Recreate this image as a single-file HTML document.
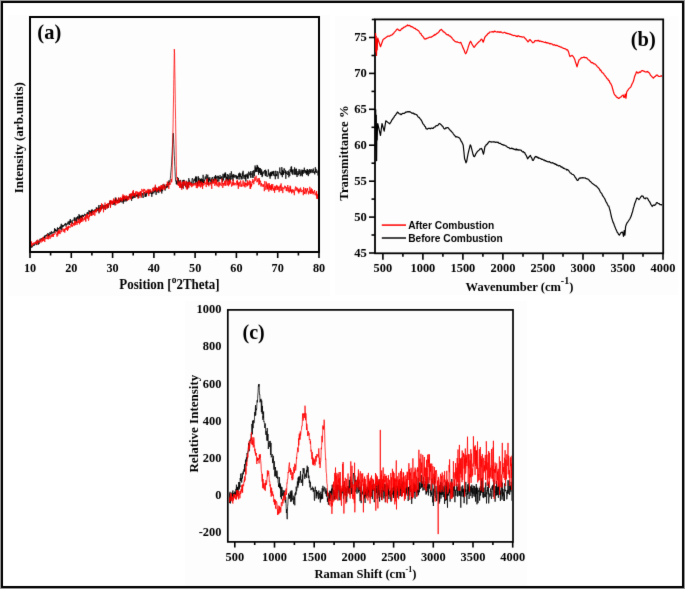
<!DOCTYPE html>
<html><head><meta charset="utf-8"><style>
html,body{margin:0;padding:0;background:#fff;width:685px;height:589px;overflow:hidden}
svg{display:block}
</style></head><body>
<svg width="685" height="589" viewBox="0 0 685 589">
<defs><filter id="bl" x="0" y="0" width="685" height="589" filterUnits="userSpaceOnUse" color-interpolation-filters="sRGB"><feConvolveMatrix order="3" kernelMatrix="0.0064 0.0672 0.0064 0.0672 0.7056 0.0672 0.0064 0.0672 0.0064" divisor="1" edgeMode="duplicate" preserveAlpha="true"/></filter></defs>
<g filter="url(#bl)">
<rect x="0" y="0" width="685" height="589" fill="#fff"/>
<rect x="8" y="15" width="322" height="281" fill="#fdfdfd"/>
<rect x="335" y="16" width="343" height="279" fill="#fdfdfd"/>
<rect x="185" y="301" width="342" height="286" fill="#fdfdfd"/>
<rect x="30" y="17" width="289" height="235" fill="none" stroke="#000" stroke-width="2"/><line x1="30.0" y1="252.0" x2="30.0" y2="258.0" stroke="#000" stroke-width="1.6"/><text transform="translate(30.00,271.80) scale(1,1.09)" style="font-family:'Liberation Serif',serif;font-weight:bold;font-size:12.2px" text-anchor="middle" >10</text><line x1="50.6" y1="252.0" x2="50.6" y2="255.5" stroke="#000" stroke-width="1.6"/><line x1="71.3" y1="252.0" x2="71.3" y2="258.0" stroke="#000" stroke-width="1.6"/><text transform="translate(71.29,271.80) scale(1,1.09)" style="font-family:'Liberation Serif',serif;font-weight:bold;font-size:12.2px" text-anchor="middle" >20</text><line x1="91.9" y1="252.0" x2="91.9" y2="255.5" stroke="#000" stroke-width="1.6"/><line x1="112.6" y1="252.0" x2="112.6" y2="258.0" stroke="#000" stroke-width="1.6"/><text transform="translate(112.57,271.80) scale(1,1.09)" style="font-family:'Liberation Serif',serif;font-weight:bold;font-size:12.2px" text-anchor="middle" >30</text><line x1="133.2" y1="252.0" x2="133.2" y2="255.5" stroke="#000" stroke-width="1.6"/><line x1="153.9" y1="252.0" x2="153.9" y2="258.0" stroke="#000" stroke-width="1.6"/><text transform="translate(153.86,271.80) scale(1,1.09)" style="font-family:'Liberation Serif',serif;font-weight:bold;font-size:12.2px" text-anchor="middle" >40</text><line x1="174.5" y1="252.0" x2="174.5" y2="255.5" stroke="#000" stroke-width="1.6"/><line x1="195.1" y1="252.0" x2="195.1" y2="258.0" stroke="#000" stroke-width="1.6"/><text transform="translate(195.14,271.80) scale(1,1.09)" style="font-family:'Liberation Serif',serif;font-weight:bold;font-size:12.2px" text-anchor="middle" >50</text><line x1="215.8" y1="252.0" x2="215.8" y2="255.5" stroke="#000" stroke-width="1.6"/><line x1="236.4" y1="252.0" x2="236.4" y2="258.0" stroke="#000" stroke-width="1.6"/><text transform="translate(236.43,271.80) scale(1,1.09)" style="font-family:'Liberation Serif',serif;font-weight:bold;font-size:12.2px" text-anchor="middle" >60</text><line x1="257.1" y1="252.0" x2="257.1" y2="255.5" stroke="#000" stroke-width="1.6"/><line x1="277.7" y1="252.0" x2="277.7" y2="258.0" stroke="#000" stroke-width="1.6"/><text transform="translate(277.71,271.80) scale(1,1.09)" style="font-family:'Liberation Serif',serif;font-weight:bold;font-size:12.2px" text-anchor="middle" >70</text><line x1="298.4" y1="252.0" x2="298.4" y2="255.5" stroke="#000" stroke-width="1.6"/><line x1="319.0" y1="252.0" x2="319.0" y2="258.0" stroke="#000" stroke-width="1.6"/><text transform="translate(319.00,271.80) scale(1,1.09)" style="font-family:'Liberation Serif',serif;font-weight:bold;font-size:12.2px" text-anchor="middle" >80</text><text transform="translate(49.30,38.80) scale(1,1.06)" style="font-family:'Liberation Serif',serif;font-weight:bold;font-size:20.5px" text-anchor="middle" >(a)</text><text transform="translate(169.50,288.90) scale(1,1.05)" style="font-family:'Liberation Serif',serif;font-weight:bold;font-size:13px" text-anchor="middle" >Position [<tspan dy="-6" font-size="9.5">o</tspan><tspan dy="6">2Theta]</tspan></text><text transform="translate(22.8,137.7) rotate(-90)" style="font-family:'Liberation Serif',serif;font-weight:bold;font-size:13px" text-anchor="middle">Intensity (arb.units)</text><rect x="375" y="19.4" width="288.2" height="233.9" fill="none" stroke="#000" stroke-width="1.8"/><line x1="371.8" y1="19.5" x2="375.0" y2="19.5" stroke="#000" stroke-width="1.6"/><line x1="382.9" y1="253.3" x2="382.9" y2="259.7" stroke="#000" stroke-width="1.6"/><text transform="translate(382.90,271.70) scale(1,1.06)" style="font-family:'Liberation Serif',serif;font-weight:bold;font-size:12.4px" text-anchor="middle" >500</text><line x1="402.9" y1="253.3" x2="402.9" y2="256.8" stroke="#000" stroke-width="1.6"/><line x1="422.9" y1="253.3" x2="422.9" y2="259.7" stroke="#000" stroke-width="1.6"/><text transform="translate(422.92,271.70) scale(1,1.06)" style="font-family:'Liberation Serif',serif;font-weight:bold;font-size:12.4px" text-anchor="middle" >1000</text><line x1="442.9" y1="253.3" x2="442.9" y2="256.8" stroke="#000" stroke-width="1.6"/><line x1="462.9" y1="253.3" x2="462.9" y2="259.7" stroke="#000" stroke-width="1.6"/><text transform="translate(462.93,271.70) scale(1,1.06)" style="font-family:'Liberation Serif',serif;font-weight:bold;font-size:12.4px" text-anchor="middle" >1500</text><line x1="482.9" y1="253.3" x2="482.9" y2="256.8" stroke="#000" stroke-width="1.6"/><line x1="502.9" y1="253.3" x2="502.9" y2="259.7" stroke="#000" stroke-width="1.6"/><text transform="translate(502.94,271.70) scale(1,1.06)" style="font-family:'Liberation Serif',serif;font-weight:bold;font-size:12.4px" text-anchor="middle" >2000</text><line x1="523.0" y1="253.3" x2="523.0" y2="256.8" stroke="#000" stroke-width="1.6"/><line x1="543.0" y1="253.3" x2="543.0" y2="259.7" stroke="#000" stroke-width="1.6"/><text transform="translate(542.96,271.70) scale(1,1.06)" style="font-family:'Liberation Serif',serif;font-weight:bold;font-size:12.4px" text-anchor="middle" >2500</text><line x1="563.0" y1="253.3" x2="563.0" y2="256.8" stroke="#000" stroke-width="1.6"/><line x1="583.0" y1="253.3" x2="583.0" y2="259.7" stroke="#000" stroke-width="1.6"/><text transform="translate(582.97,271.70) scale(1,1.06)" style="font-family:'Liberation Serif',serif;font-weight:bold;font-size:12.4px" text-anchor="middle" >3000</text><line x1="603.0" y1="253.3" x2="603.0" y2="256.8" stroke="#000" stroke-width="1.6"/><line x1="623.0" y1="253.3" x2="623.0" y2="259.7" stroke="#000" stroke-width="1.6"/><text transform="translate(622.99,271.70) scale(1,1.06)" style="font-family:'Liberation Serif',serif;font-weight:bold;font-size:12.4px" text-anchor="middle" >3500</text><line x1="643.0" y1="253.3" x2="643.0" y2="256.8" stroke="#000" stroke-width="1.6"/><line x1="663.0" y1="253.3" x2="663.0" y2="259.7" stroke="#000" stroke-width="1.6"/><text transform="translate(663.00,271.70) scale(1,1.06)" style="font-family:'Liberation Serif',serif;font-weight:bold;font-size:12.4px" text-anchor="middle" >4000</text><line x1="375.0" y1="253.0" x2="369.0" y2="253.0" stroke="#000" stroke-width="1.6"/><text transform="translate(366.80,256.89) scale(1,1.03)" style="font-family:'Liberation Serif',serif;font-weight:bold;font-size:12.6px" text-anchor="end" >45</text><line x1="375.0" y1="235.0" x2="371.5" y2="235.0" stroke="#000" stroke-width="1.6"/><line x1="375.0" y1="217.1" x2="369.0" y2="217.1" stroke="#000" stroke-width="1.6"/><text transform="translate(366.80,220.97) scale(1,1.03)" style="font-family:'Liberation Serif',serif;font-weight:bold;font-size:12.6px" text-anchor="end" >50</text><line x1="375.0" y1="199.1" x2="371.5" y2="199.1" stroke="#000" stroke-width="1.6"/><line x1="375.0" y1="181.2" x2="369.0" y2="181.2" stroke="#000" stroke-width="1.6"/><text transform="translate(366.80,185.06) scale(1,1.03)" style="font-family:'Liberation Serif',serif;font-weight:bold;font-size:12.6px" text-anchor="end" >55</text><line x1="375.0" y1="163.2" x2="371.5" y2="163.2" stroke="#000" stroke-width="1.6"/><line x1="375.0" y1="145.2" x2="369.0" y2="145.2" stroke="#000" stroke-width="1.6"/><text transform="translate(366.80,149.15) scale(1,1.03)" style="font-family:'Liberation Serif',serif;font-weight:bold;font-size:12.6px" text-anchor="end" >60</text><line x1="375.0" y1="127.3" x2="371.5" y2="127.3" stroke="#000" stroke-width="1.6"/><line x1="375.0" y1="109.3" x2="369.0" y2="109.3" stroke="#000" stroke-width="1.6"/><text transform="translate(366.80,113.23) scale(1,1.03)" style="font-family:'Liberation Serif',serif;font-weight:bold;font-size:12.6px" text-anchor="end" >65</text><line x1="375.0" y1="91.4" x2="371.5" y2="91.4" stroke="#000" stroke-width="1.6"/><line x1="375.0" y1="73.4" x2="369.0" y2="73.4" stroke="#000" stroke-width="1.6"/><text transform="translate(366.80,77.31) scale(1,1.03)" style="font-family:'Liberation Serif',serif;font-weight:bold;font-size:12.6px" text-anchor="end" >70</text><line x1="375.0" y1="55.5" x2="371.5" y2="55.5" stroke="#000" stroke-width="1.6"/><line x1="375.0" y1="37.5" x2="369.0" y2="37.5" stroke="#000" stroke-width="1.6"/><text transform="translate(366.80,41.40) scale(1,1.03)" style="font-family:'Liberation Serif',serif;font-weight:bold;font-size:12.6px" text-anchor="end" >75</text><text transform="translate(643.30,46.20) scale(1,1.04)" style="font-family:'Liberation Serif',serif;font-weight:bold;font-size:20.5px" text-anchor="middle" >(b)</text><text x="519.5" y="290.5" style="font-family:'Liberation Serif',serif;font-weight:bold;font-size:12.5px" text-anchor="middle" >Wavenumber (cm<tspan dy="-6.5" font-size="10">-1</tspan><tspan dy="6.5">)</tspan></text><text transform="translate(347.5,153) rotate(-90)" style="font-family:'Liberation Serif',serif;font-weight:bold;font-size:12.8px" text-anchor="middle">Transmittance %</text><line x1="381.8" y1="225.1" x2="406.0" y2="225.1" stroke="#ff2a2a" stroke-width="1.8"/><line x1="381.8" y1="238.0" x2="406.0" y2="238.0" stroke="#333" stroke-width="1.8"/><text x="408.2" y="229.1" style="font-family:'Liberation Sans',sans-serif;font-weight:bold;font-size:10.2px" text-anchor="start" >After Combustion</text><text x="408.2" y="241.8" style="font-family:'Liberation Sans',sans-serif;font-weight:bold;font-size:10.2px" text-anchor="start" >Before Combustion</text><rect x="227.8" y="309.9" width="285.2" height="232.0" fill="none" stroke="#000" stroke-width="1.7"/><line x1="234.8" y1="541.9" x2="234.8" y2="547.6" stroke="#000" stroke-width="1.6"/><text x="234.8" y="560.8" style="font-family:'Liberation Serif',serif;font-weight:bold;font-size:12.4px" text-anchor="middle" >500</text><line x1="254.7" y1="541.9" x2="254.7" y2="545.0" stroke="#000" stroke-width="1.6"/><line x1="274.5" y1="541.9" x2="274.5" y2="547.6" stroke="#000" stroke-width="1.6"/><text x="274.5" y="560.8" style="font-family:'Liberation Serif',serif;font-weight:bold;font-size:12.4px" text-anchor="middle" >1000</text><line x1="294.4" y1="541.9" x2="294.4" y2="545.0" stroke="#000" stroke-width="1.6"/><line x1="314.2" y1="541.9" x2="314.2" y2="547.6" stroke="#000" stroke-width="1.6"/><text x="314.2" y="560.8" style="font-family:'Liberation Serif',serif;font-weight:bold;font-size:12.4px" text-anchor="middle" >1500</text><line x1="334.1" y1="541.9" x2="334.1" y2="545.0" stroke="#000" stroke-width="1.6"/><line x1="353.9" y1="541.9" x2="353.9" y2="547.6" stroke="#000" stroke-width="1.6"/><text x="353.9" y="560.8" style="font-family:'Liberation Serif',serif;font-weight:bold;font-size:12.4px" text-anchor="middle" >2000</text><line x1="373.8" y1="541.9" x2="373.8" y2="545.0" stroke="#000" stroke-width="1.6"/><line x1="393.6" y1="541.9" x2="393.6" y2="547.6" stroke="#000" stroke-width="1.6"/><text x="393.6" y="560.8" style="font-family:'Liberation Serif',serif;font-weight:bold;font-size:12.4px" text-anchor="middle" >2500</text><line x1="413.5" y1="541.9" x2="413.5" y2="545.0" stroke="#000" stroke-width="1.6"/><line x1="433.3" y1="541.9" x2="433.3" y2="547.6" stroke="#000" stroke-width="1.6"/><text x="433.3" y="560.8" style="font-family:'Liberation Serif',serif;font-weight:bold;font-size:12.4px" text-anchor="middle" >3000</text><line x1="453.2" y1="541.9" x2="453.2" y2="545.0" stroke="#000" stroke-width="1.6"/><line x1="473.0" y1="541.9" x2="473.0" y2="547.6" stroke="#000" stroke-width="1.6"/><text x="473.0" y="560.8" style="font-family:'Liberation Serif',serif;font-weight:bold;font-size:12.4px" text-anchor="middle" >3500</text><line x1="492.9" y1="541.9" x2="492.9" y2="545.0" stroke="#000" stroke-width="1.6"/><line x1="512.7" y1="541.9" x2="512.7" y2="547.6" stroke="#000" stroke-width="1.6"/><text x="512.7" y="560.8" style="font-family:'Liberation Serif',serif;font-weight:bold;font-size:12.4px" text-anchor="middle" >4000</text><text x="221.4" y="536.3" style="font-family:'Liberation Serif',serif;font-weight:bold;font-size:12.4px" text-anchor="end" >-200</text><text x="221.4" y="499.1" style="font-family:'Liberation Serif',serif;font-weight:bold;font-size:12.4px" text-anchor="end" >0</text><text x="221.4" y="461.9" style="font-family:'Liberation Serif',serif;font-weight:bold;font-size:12.4px" text-anchor="end" >200</text><text x="221.4" y="424.7" style="font-family:'Liberation Serif',serif;font-weight:bold;font-size:12.4px" text-anchor="end" >400</text><text x="221.4" y="387.5" style="font-family:'Liberation Serif',serif;font-weight:bold;font-size:12.4px" text-anchor="end" >600</text><text x="221.4" y="350.3" style="font-family:'Liberation Serif',serif;font-weight:bold;font-size:12.4px" text-anchor="end" >800</text><text x="221.4" y="313.1" style="font-family:'Liberation Serif',serif;font-weight:bold;font-size:12.4px" text-anchor="end" >1000</text><text x="253.6" y="339.2" style="font-family:'Liberation Serif',serif;font-weight:bold;font-size:20px" text-anchor="middle" >(c)</text><text x="365.5" y="578.0" style="font-family:'Liberation Serif',serif;font-weight:bold;font-size:12.5px" text-anchor="middle" >Raman Shift (cm<tspan dy="-6" font-size="8">-1</tspan><tspan dy="6">)</tspan></text><text transform="translate(198,423.7) rotate(-90)" style="font-family:'Liberation Serif',serif;font-weight:bold;font-size:13px" text-anchor="middle">Relative Intensity</text>

<svg x="0" y="0" width="685" height="589" overflow="hidden">
<defs>
<clipPath id="ca"><rect x="31" y="18" width="287" height="233"/></clipPath>
<clipPath id="cb"><rect x="374" y="20" width="288" height="232"/></clipPath>
<clipPath id="cc"><rect x="229" y="311" width="283" height="230"/></clipPath>
</defs>
<g clip-path="url(#ca)" fill="none" stroke-linejoin="round">
<path d="M30.8 247.6L31.1 247.9L31.3 247.2L31.6 245.3L31.8 247.6L32.0 246.9L32.3 245.6L32.5 246.7L32.8 246.3L33.0 246.1L33.3 245.6L33.5 246.0L33.8 244.4L34.0 244.9L34.3 244.4L34.5 245.5L34.8 244.7L35.0 244.1L35.3 243.4L35.5 243.8L35.8 244.0L36.0 243.5L36.3 245.1L36.5 244.6L36.8 240.4L37.0 241.0L37.3 242.8L37.5 242.3L37.8 242.8L38.0 242.6L38.3 244.7L38.5 240.7L38.8 241.3L39.0 244.0L39.3 242.1L39.5 242.0L39.8 240.4L40.0 238.8L40.3 240.8L40.5 240.5L40.8 238.7L41.0 239.1L41.3 239.7L41.5 238.4L41.8 239.2L42.0 239.3L42.3 239.0L42.5 238.1L42.8 239.2L43.0 239.4L43.3 238.5L43.5 236.9L43.8 238.6L44.0 236.9L44.3 238.4L44.5 235.8L44.8 238.0L45.0 236.7L45.3 235.1L45.5 236.1L45.8 236.4L46.0 236.5L46.3 234.8L46.5 234.5L46.8 236.0L47.0 235.1L47.3 235.8L47.5 236.3L47.8 233.2L48.0 235.4L48.3 236.5L48.5 234.4L48.8 233.6L49.0 235.5L49.3 234.7L49.5 235.4L49.8 233.7L50.0 232.1L50.3 233.7L50.5 233.1L50.8 234.5L51.0 233.6L51.3 231.2L51.5 231.6L51.8 234.1L52.0 233.7L52.3 231.9L52.5 232.5L52.8 233.0L53.0 232.8L53.3 233.2L53.5 232.3L53.8 231.6L54.0 231.3L54.3 232.8L54.5 228.3L54.8 231.0L55.0 231.0L55.3 228.9L55.5 231.1L55.8 229.6L56.0 231.5L56.3 230.0L56.5 230.9L56.8 231.5L57.0 230.2L57.3 228.4L57.5 227.4L57.8 231.6L58.0 228.9L58.3 228.0L58.5 229.0L58.8 228.4L59.0 229.6L59.3 228.4L59.5 228.2L59.8 227.0L60.0 228.5L60.3 226.3L60.5 228.5L60.8 229.5L61.0 225.2L61.3 223.8L61.5 227.9L61.8 230.3L62.0 225.4L62.3 224.9L62.5 227.3L62.8 225.2L63.0 225.5L63.3 225.6L63.5 226.6L63.8 225.2L64.0 226.0L64.3 225.2L64.5 224.2L64.8 224.8L65.0 223.7L65.3 224.9L65.5 223.2L65.8 223.1L66.0 226.6L66.3 224.3L66.5 224.1L66.8 224.8L67.0 223.3L67.3 223.5L67.5 224.3L67.8 223.9L68.0 221.7L68.3 224.4L68.5 222.2L68.8 221.4L69.0 221.5L69.3 222.1L69.5 224.9L69.8 220.7L70.0 222.5L70.3 219.0L70.5 222.0L70.8 223.1L71.0 221.3L71.3 220.6L71.5 221.7L71.8 222.3L72.0 222.1L72.3 223.8L72.5 221.1L72.8 219.8L73.0 220.4L73.3 220.3L73.5 220.4L73.8 220.1L74.0 220.2L74.3 217.4L74.5 220.9L74.8 218.7L75.0 217.7L75.3 220.3L75.5 221.2L75.8 219.9L76.0 219.3L76.3 217.6L76.5 222.7L76.8 220.1L77.0 217.0L77.3 217.5L77.5 218.7L77.8 216.1L78.0 218.6L78.3 217.6L78.5 220.0L78.8 219.5L79.0 214.2L79.3 217.9L79.5 215.3L79.8 219.4L80.0 217.9L80.3 218.3L80.5 215.8L80.8 220.1L81.0 220.3L81.3 215.5L81.5 217.6L81.8 215.9L82.0 216.8L82.3 214.8L82.5 219.5L82.8 215.0L83.0 215.9L83.3 217.0L83.5 215.1L83.8 215.6L84.0 215.0L84.3 215.6L84.5 213.8L84.8 214.8L85.0 215.1L85.3 214.7L85.5 215.2L85.8 214.6L86.0 216.1L86.3 214.3L86.5 214.4L86.8 213.5L87.0 213.6L87.3 212.3L87.5 215.0L87.8 212.2L88.0 212.7L88.3 214.4L88.5 214.3L88.8 212.9L89.0 210.2L89.3 214.0L89.5 213.6L89.8 210.8L90.0 214.2L90.3 211.7L90.5 210.9L90.8 212.8L91.0 212.2L91.3 212.8L91.5 209.7L91.8 215.2L92.0 211.1L92.3 209.5L92.5 212.9L92.8 211.2L93.0 212.2L93.3 211.0L93.5 211.4L93.8 211.8L94.0 210.0L94.3 212.3L94.5 210.3L94.8 209.5L95.0 211.0L95.3 211.5L95.5 210.2L95.8 209.1L96.0 211.4L96.3 207.4L96.5 208.5L96.8 210.2L97.0 207.7L97.3 209.9L97.5 209.7L97.8 211.2L98.0 208.0L98.3 208.4L98.5 209.9L98.8 205.1L99.0 213.4L99.3 207.8L99.5 207.7L99.8 210.3L100.0 208.6L100.3 205.0L100.5 209.7L100.8 210.1L101.0 207.4L101.3 207.6L101.5 209.0L101.8 206.1L102.0 208.7L102.3 208.1L102.5 206.2L102.8 204.7L103.0 206.9L103.3 205.5L103.5 209.1L103.8 207.3L104.0 208.4L104.3 207.0L104.5 207.2L104.8 205.0L105.0 207.8L105.3 209.9L105.5 205.6L105.8 204.9L106.0 205.6L106.3 204.9L106.5 204.3L106.8 205.9L107.0 204.9L107.3 208.3L107.5 205.3L107.8 205.8L108.0 206.9L108.3 204.3L108.5 207.7L108.8 203.4L109.0 203.0L109.3 203.7L109.5 204.1L109.8 201.4L110.0 204.1L110.3 200.7L110.5 206.7L110.8 203.6L111.0 202.4L111.3 201.7L111.5 202.7L111.8 202.9L112.0 201.1L112.3 201.3L112.5 202.6L112.8 201.9L113.0 204.7L113.3 205.0L113.5 202.7L113.8 203.5L114.0 199.8L114.3 203.7L114.5 202.3L114.8 203.2L115.0 205.4L115.3 197.5L115.5 202.5L115.8 199.7L116.0 203.0L116.3 199.1L116.5 200.7L116.8 202.0L117.0 202.7L117.3 201.6L117.5 199.8L117.8 200.2L118.0 203.0L118.3 201.1L118.5 197.7L118.8 202.6L119.0 201.7L119.3 202.5L119.5 200.0L119.8 202.3L120.0 198.4L120.3 201.6L120.5 199.4L120.8 201.6L121.0 202.2L121.3 198.7L121.5 200.0L121.8 200.1L122.0 202.3L122.3 201.2L122.5 197.3L122.8 200.6L123.0 201.1L123.3 203.7L123.5 196.0L123.8 198.3L124.0 201.9L124.3 196.5L124.5 196.7L124.8 200.0L125.0 201.0L125.3 197.5L125.5 199.8L125.8 198.9L126.0 201.6L126.3 198.5L126.5 200.4L126.8 196.5L127.0 197.9L127.3 198.0L127.5 200.4L127.8 199.2L128.1 196.4L128.3 199.2L128.6 199.3L128.8 197.5L129.1 197.1L129.3 197.1L129.6 194.1L129.8 197.7L130.1 197.7L130.3 195.5L130.6 198.6L130.8 194.3L131.1 195.8L131.3 195.9L131.6 200.8L131.8 193.5L132.1 197.7L132.3 198.4L132.6 197.2L132.8 198.7L133.1 194.3L133.3 191.7L133.6 197.7L133.8 193.7L134.1 195.3L134.3 193.5L134.6 197.9L134.8 197.5L135.1 194.2L135.3 197.4L135.6 195.7L135.8 195.1L136.1 195.4L136.3 194.8L136.6 196.4L136.8 195.7L137.1 194.3L137.3 197.0L137.6 193.7L137.8 195.4L138.1 195.6L138.3 197.7L138.6 193.7L138.8 198.1L139.1 194.9L139.3 194.1L139.6 193.1L139.8 195.6L140.1 194.5L140.3 192.1L140.6 192.0L140.8 193.1L141.1 192.8L141.3 196.3L141.6 196.8L141.8 195.8L142.1 194.7L142.3 193.1L142.6 194.0L142.8 195.6L143.1 198.0L143.3 195.5L143.6 193.1L143.8 193.7L144.1 192.6L144.3 192.0L144.6 193.1L144.8 193.8L145.1 197.0L145.3 193.4L145.6 196.0L145.8 196.7L146.1 193.3L146.3 196.3L146.6 194.5L146.8 192.2L147.1 193.5L147.3 193.0L147.6 192.4L147.8 192.4L148.1 193.0L148.3 193.6L148.6 190.9L148.8 192.6L149.1 189.5L149.3 193.0L149.6 193.7L149.8 192.7L150.1 192.9L150.3 193.4L150.6 190.8L150.8 191.6L151.1 193.0L151.3 193.9L151.6 192.6L151.8 196.8L152.1 191.5L152.3 193.6L152.6 194.1L152.8 191.2L153.1 189.8L153.3 189.0L153.6 191.6L153.8 193.4L154.1 191.7L154.3 191.4L154.6 190.2L154.8 192.1L155.1 186.6L155.3 191.3L155.6 190.8L155.8 187.9L156.1 194.9L156.3 187.7L156.6 188.3L156.8 188.0L157.1 192.5L157.3 188.4L157.6 191.5L157.8 191.3L158.1 190.5L158.3 187.3L158.6 188.6L158.8 193.1L159.1 187.1L159.3 188.0L159.6 189.3L159.8 191.1L160.1 189.9L160.3 190.9L160.6 187.2L160.8 191.1L161.1 190.3L161.3 185.9L161.6 192.1L161.8 193.5L162.1 187.2L162.3 188.7L162.6 191.2L162.8 185.3L163.1 184.1L163.3 185.4L163.6 186.7L163.8 186.5L164.1 188.7L164.3 187.9L164.6 184.7L164.8 188.2L165.1 190.6L165.3 189.1L165.6 188.6L165.8 186.5L166.1 188.2L166.3 184.2L166.6 187.5L166.8 185.5L167.1 187.7L167.3 186.1L167.6 182.8L167.8 185.0L168.1 186.9L168.3 181.9L168.6 182.8L168.8 182.1L169.1 180.3L169.3 184.9L169.6 182.6L169.8 182.3L170.1 181.4L170.3 178.6L170.6 175.8L170.8 172.9L171.1 170.1L171.3 167.3L171.6 164.0L171.8 159.0L172.1 154.0L172.3 149.0L172.6 144.0L172.8 139.0L173.1 134.0L173.3 133.2L173.6 138.8L173.8 144.4L174.1 150.0L174.3 155.5L174.6 161.1L174.8 166.3L175.1 171.6L175.3 176.8L175.6 181.1L175.8 181.3L176.1 180.8L176.3 184.2L176.6 181.5L176.8 180.7L177.1 184.7L177.3 180.7L177.6 177.2L177.8 180.9L178.1 184.0L178.3 178.0L178.6 183.1L178.8 183.1L179.1 180.5L179.3 180.3L179.6 182.7L179.8 182.5L180.1 186.8L180.3 184.7L180.6 179.9L180.8 181.6L181.1 185.4L181.3 188.2L181.6 184.5L181.8 184.3L182.1 188.0L182.3 183.5L182.6 182.7L182.8 180.1L183.1 182.2L183.3 188.6L183.6 179.9L183.8 183.4L184.1 179.9L184.3 183.6L184.6 185.4L184.8 182.6L185.1 184.9L185.3 184.9L185.6 184.2L185.8 187.2L186.1 184.9L186.3 182.3L186.6 181.4L186.8 180.9L187.1 184.1L187.3 182.1L187.6 188.9L187.8 187.3L188.1 182.3L188.3 182.0L188.6 186.8L188.8 178.2L189.1 181.6L189.3 184.9L189.6 180.4L189.8 181.5L190.1 181.7L190.3 184.1L190.6 182.8L190.8 183.4L191.1 183.9L191.3 182.5L191.6 185.0L191.8 180.6L192.1 178.9L192.3 178.0L192.6 178.4L192.8 180.9L193.1 184.7L193.3 182.6L193.6 180.7L193.8 179.5L194.1 180.8L194.3 181.0L194.6 180.6L194.8 178.5L195.1 180.8L195.3 184.3L195.6 176.6L195.8 181.2L196.1 176.7L196.3 182.2L196.6 179.9L196.8 176.7L197.1 181.9L197.3 186.0L197.6 181.8L197.8 184.3L198.1 181.3L198.3 176.3L198.6 182.6L198.8 180.4L199.1 177.9L199.3 183.2L199.6 182.0L199.8 180.0L200.1 183.3L200.3 179.1L200.6 182.7L200.8 178.9L201.1 182.4L201.3 178.4L201.6 184.6L201.8 181.6L202.1 184.4L202.3 179.0L202.6 179.8L202.8 182.9L203.1 174.8L203.3 178.3L203.6 183.3L203.8 181.9L204.1 183.1L204.3 179.9L204.6 182.0L204.8 178.9L205.1 177.3L205.3 176.5L205.6 179.2L205.8 179.2L206.1 178.9L206.3 174.4L206.6 175.6L206.8 179.1L207.1 181.0L207.3 178.9L207.6 178.1L207.8 174.7L208.1 185.0L208.3 177.5L208.6 184.2L208.8 183.8L209.1 180.7L209.3 178.6L209.6 180.3L209.8 177.2L210.1 180.5L210.3 179.9L210.6 181.1L210.8 182.1L211.1 183.9L211.3 178.8L211.6 182.2L211.8 177.8L212.1 177.5L212.3 178.1L212.6 177.2L212.8 181.9L213.1 181.7L213.3 182.5L213.6 179.4L213.8 180.1L214.1 178.0L214.3 176.6L214.6 180.4L214.8 179.9L215.1 176.6L215.3 180.6L215.6 175.0L215.8 178.7L216.1 177.6L216.3 177.8L216.6 176.4L216.8 181.3L217.1 180.3L217.3 181.8L217.6 179.2L217.8 175.8L218.1 177.9L218.3 175.9L218.6 179.8L218.8 181.6L219.1 179.5L219.3 177.2L219.6 177.7L219.8 179.1L220.1 175.1L220.3 178.9L220.6 178.9L220.8 177.1L221.1 177.4L221.3 178.8L221.6 176.4L221.8 176.3L222.1 180.1L222.3 178.8L222.6 182.2L222.8 175.8L223.1 173.8L223.3 180.3L223.6 180.3L223.8 176.2L224.1 174.5L224.3 177.8L224.6 173.7L224.8 177.1L225.1 172.6L225.3 177.3L225.6 172.7L225.8 177.2L226.1 181.4L226.3 177.1L226.6 179.5L226.8 176.1L227.1 175.5L227.3 174.0L227.6 180.1L227.8 177.4L228.1 181.4L228.3 174.7L228.6 176.9L228.8 177.6L229.1 180.8L229.3 181.8L229.6 175.8L229.8 174.6L230.1 173.2L230.3 180.5L230.6 177.1L230.8 175.7L231.1 177.1L231.3 171.3L231.6 173.0L231.8 179.4L232.1 178.1L232.3 177.5L232.6 174.7L232.8 178.5L233.1 181.3L233.3 174.1L233.6 177.0L233.8 175.9L234.1 177.8L234.3 176.9L234.6 176.5L234.8 174.7L235.1 176.8L235.3 175.3L235.6 176.4L235.8 176.6L236.1 178.3L236.3 175.3L236.6 175.9L236.8 179.2L237.1 176.1L237.3 176.0L237.6 178.7L237.8 177.2L238.1 176.7L238.3 177.0L238.6 173.5L238.8 177.6L239.1 179.6L239.3 177.8L239.6 172.7L239.8 177.1L240.1 174.2L240.3 175.8L240.6 176.6L240.8 173.4L241.1 179.4L241.3 176.0L241.6 178.1L241.8 177.6L242.1 179.3L242.3 178.9L242.6 172.5L242.8 176.1L243.1 170.8L243.3 174.8L243.6 177.6L243.8 178.0L244.1 178.9L244.3 174.8L244.6 176.5L244.8 175.9L245.1 178.6L245.3 179.4L245.6 174.6L245.8 181.5L246.1 175.4L246.3 174.4L246.6 176.7L246.8 177.0L247.1 176.4L247.3 173.5L247.6 178.5L247.8 175.1L248.1 178.6L248.3 178.2L248.6 171.7L248.8 172.4L249.1 172.3L249.3 175.2L249.6 174.7L249.8 175.1L250.1 172.5L250.3 175.4L250.6 177.7L250.8 171.0L251.1 173.7L251.3 174.7L251.6 173.8L251.8 173.4L252.1 177.8L252.3 176.4L252.6 175.1L252.8 170.9L253.1 177.9L253.3 173.1L253.6 170.6L253.8 170.9L254.1 170.3L254.3 176.3L254.6 171.5L254.8 171.0L255.1 165.5L255.3 172.2L255.6 167.7L255.8 167.4L256.1 171.4L256.3 167.6L256.6 171.5L256.8 172.0L257.1 164.9L257.3 169.1L257.6 165.8L257.8 169.6L258.1 172.1L258.3 166.9L258.6 174.7L258.8 169.8L259.1 167.9L259.3 170.6L259.6 173.0L259.8 168.0L260.1 171.5L260.3 168.3L260.6 174.7L260.8 172.4L261.1 171.2L261.3 174.9L261.6 169.4L261.8 171.7L262.1 177.1L262.3 172.5L262.6 176.1L262.8 173.5L263.1 171.4L263.3 172.6L263.6 173.5L263.8 172.4L264.1 171.5L264.3 171.7L264.6 170.1L264.8 174.0L265.1 174.8L265.3 175.7L265.6 169.7L265.8 176.1L266.1 174.2L266.3 170.9L266.6 174.6L266.8 176.5L267.1 175.8L267.3 176.2L267.6 176.8L267.8 176.6L268.1 174.3L268.3 169.4L268.6 172.6L268.8 175.2L269.1 173.2L269.3 176.0L269.6 176.2L269.8 174.4L270.1 178.7L270.3 171.9L270.6 176.4L270.8 173.0L271.1 172.3L271.3 175.5L271.6 172.6L271.8 176.1L272.1 171.2L272.3 174.1L272.6 172.0L272.8 173.4L273.1 173.0L273.3 171.2L273.6 175.5L273.8 170.9L274.1 171.5L274.3 176.0L274.6 176.1L274.8 175.4L275.1 174.6L275.3 179.2L275.6 170.8L275.8 171.9L276.1 171.3L276.3 175.8L276.6 174.3L276.8 176.2L277.1 175.9L277.3 173.0L277.6 171.5L277.8 171.1L278.1 178.8L278.3 175.7L278.6 174.8L278.8 172.6L279.1 172.9L279.3 172.5L279.6 172.5L279.8 167.5L280.1 173.1L280.3 172.3L280.6 173.9L280.8 173.7L281.1 175.2L281.3 173.1L281.6 175.0L281.8 167.1L282.1 170.4L282.3 177.2L282.6 170.1L282.8 172.3L283.1 174.7L283.3 170.9L283.6 174.7L283.8 169.5L284.1 168.3L284.3 169.7L284.6 168.9L284.8 172.8L285.1 172.0L285.3 173.6L285.6 170.3L285.8 178.8L286.1 172.5L286.3 172.6L286.6 173.8L286.8 172.1L287.1 171.1L287.3 172.8L287.6 174.8L287.8 174.2L288.1 174.8L288.3 171.2L288.6 170.6L288.8 177.3L289.1 171.9L289.3 173.6L289.6 174.2L289.8 175.9L290.1 169.2L290.3 171.3L290.6 171.4L290.8 171.7L291.1 166.7L291.3 172.2L291.6 166.5L291.8 173.2L292.1 173.8L292.3 173.9L292.6 169.6L292.8 174.8L293.1 170.4L293.3 169.5L293.6 170.1L293.8 170.4L294.1 172.9L294.3 174.5L294.6 167.4L294.8 171.2L295.1 174.6L295.3 173.0L295.6 173.7L295.8 168.9L296.1 174.8L296.3 168.7L296.6 173.0L296.8 175.8L297.1 177.0L297.3 173.7L297.6 174.6L297.8 171.0L298.1 171.3L298.3 175.3L298.6 172.5L298.8 172.2L299.1 169.1L299.3 172.9L299.6 174.1L299.8 170.6L300.1 171.2L300.3 176.2L300.6 172.8L300.8 171.7L301.1 169.6L301.3 170.8L301.6 171.6L301.8 175.5L302.1 170.7L302.3 176.4L302.6 169.8L302.8 171.2L303.1 174.0L303.3 171.4L303.6 169.9L303.8 171.6L304.1 172.9L304.3 167.7L304.6 171.2L304.8 171.5L305.1 170.7L305.3 173.4L305.6 170.2L305.8 170.7L306.1 171.6L306.3 173.2L306.6 170.9L306.8 175.0L307.1 169.2L307.3 174.4L307.6 169.2L307.8 170.9L308.1 172.1L308.3 176.1L308.6 173.3L308.8 170.1L309.1 174.2L309.3 170.5L309.6 169.1L309.8 172.0L310.1 171.1L310.3 173.2L310.6 169.5L310.8 171.7L311.1 172.4L311.3 171.5L311.6 170.8L311.8 169.2L312.1 173.1L312.3 171.3L312.6 172.1L312.8 170.1L313.1 171.0L313.3 168.5L313.6 171.2L313.8 172.9L314.1 171.3L314.3 173.2L314.6 171.9L314.8 174.4L315.1 170.7L315.3 167.2L315.6 172.2L315.8 170.8L316.1 168.9L316.3 172.8L316.6 171.9L316.8 172.4L317.1 170.5L317.3 171.8L317.6 172.0L317.8 175.6" stroke="#000" stroke-width="0.75"/>
<path d="M30.8 244.9L31.1 244.0L31.3 244.0L31.6 241.4L31.8 246.5L32.0 245.6L32.3 243.7L32.5 244.9L32.8 244.2L33.0 243.1L33.3 244.9L33.5 243.2L33.8 243.0L34.0 242.4L34.3 243.8L34.5 243.0L34.8 243.7L35.0 242.2L35.3 243.0L35.5 241.6L35.8 243.7L36.0 242.8L36.3 242.8L36.5 242.8L36.8 240.9L37.0 243.1L37.3 244.6L37.5 239.8L37.8 239.6L38.0 239.8L38.3 242.6L38.5 241.6L38.8 242.7L39.0 242.2L39.3 241.4L39.5 241.4L39.8 240.7L40.0 241.9L40.3 239.3L40.5 240.1L40.8 240.8L41.0 242.7L41.3 239.3L41.5 238.8L41.8 239.3L42.0 241.2L42.3 239.6L42.5 241.5L42.8 237.2L43.0 241.0L43.3 240.8L43.5 237.5L43.8 239.4L44.0 240.7L44.3 239.1L44.5 240.2L44.8 242.0L45.0 239.1L45.3 238.2L45.5 237.4L45.8 239.2L46.0 238.0L46.3 237.9L46.5 237.9L46.8 238.8L47.0 236.4L47.3 235.6L47.5 234.3L47.8 239.1L48.0 237.5L48.3 239.3L48.5 237.1L48.8 236.0L49.0 237.6L49.3 236.7L49.5 235.0L49.8 235.4L50.0 238.9L50.3 236.9L50.5 236.8L50.8 235.8L51.0 235.1L51.3 237.2L51.5 235.7L51.8 234.7L52.0 235.4L52.3 234.2L52.5 235.6L52.8 236.8L53.0 234.0L53.3 237.0L53.5 233.9L53.8 235.0L54.0 233.5L54.3 234.2L54.5 234.5L54.8 233.7L55.0 233.1L55.3 233.1L55.5 232.7L55.8 231.5L56.0 233.3L56.3 234.1L56.5 234.7L56.8 234.2L57.0 236.7L57.3 233.5L57.5 232.3L57.8 235.5L58.0 231.2L58.3 233.9L58.5 231.0L58.8 232.8L59.0 229.3L59.3 233.4L59.5 231.7L59.8 230.4L60.0 234.1L60.3 232.7L60.5 231.5L60.8 230.3L61.0 231.2L61.3 230.9L61.5 232.1L61.8 232.1L62.0 229.8L62.3 229.9L62.5 229.8L62.8 228.5L63.0 229.5L63.3 230.1L63.5 231.2L63.8 232.0L64.0 228.7L64.3 230.6L64.5 229.0L64.8 232.7L65.0 229.4L65.3 230.1L65.5 227.9L65.8 227.9L66.0 229.4L66.3 228.4L66.5 229.4L66.8 226.4L67.0 229.6L67.3 227.1L67.5 231.0L67.8 227.7L68.0 229.7L68.3 225.7L68.5 228.4L68.8 226.2L69.0 226.6L69.3 227.3L69.5 226.6L69.8 227.3L70.0 227.9L70.3 227.6L70.5 226.3L70.8 224.2L71.0 224.9L71.3 225.7L71.5 222.5L71.8 226.8L72.0 225.1L72.3 224.9L72.5 226.6L72.8 226.1L73.0 225.2L73.3 223.1L73.5 225.0L73.8 224.9L74.0 222.8L74.3 225.7L74.5 224.7L74.8 220.6L75.0 223.8L75.3 221.5L75.5 225.1L75.8 224.5L76.0 221.3L76.3 221.5L76.5 222.9L76.8 222.2L77.0 224.9L77.3 223.5L77.5 221.7L77.8 223.0L78.0 218.6L78.3 222.3L78.5 223.0L78.8 221.2L79.0 220.2L79.3 222.1L79.5 224.3L79.8 221.3L80.0 219.0L80.3 223.0L80.5 217.5L80.8 221.2L81.0 219.3L81.3 221.6L81.5 218.6L81.8 222.0L82.0 220.2L82.3 216.7L82.5 216.2L82.8 218.8L83.0 221.3L83.3 219.3L83.5 219.0L83.8 218.4L84.0 219.9L84.3 219.2L84.5 218.9L84.8 216.7L85.0 220.2L85.3 220.4L85.5 215.8L85.8 221.7L86.0 218.9L86.3 216.8L86.5 214.2L86.8 218.4L87.0 218.1L87.3 216.1L87.5 213.9L87.8 218.7L88.0 215.7L88.3 215.8L88.5 220.7L88.8 220.0L89.0 217.8L89.3 215.3L89.5 217.1L89.8 211.9L90.0 215.9L90.3 214.2L90.5 213.1L90.8 212.5L91.0 215.9L91.3 215.0L91.5 215.0L91.8 216.0L92.0 212.9L92.3 212.1L92.5 211.0L92.8 213.3L93.0 215.0L93.3 213.3L93.5 214.5L93.8 211.2L94.0 212.2L94.3 211.6L94.5 210.6L94.8 215.8L95.0 213.9L95.3 210.9L95.5 210.7L95.8 211.8L96.0 209.2L96.3 212.4L96.5 209.1L96.8 210.6L97.0 209.3L97.3 210.1L97.5 208.4L97.8 207.8L98.0 208.7L98.3 209.1L98.5 209.6L98.8 210.1L99.0 212.5L99.3 211.1L99.5 209.0L99.8 210.6L100.0 207.8L100.3 211.9L100.5 210.0L100.8 206.0L101.0 210.1L101.3 210.1L101.5 203.3L101.8 206.7L102.0 207.1L102.3 204.1L102.5 205.7L102.8 205.8L103.0 208.5L103.3 208.0L103.5 212.3L103.8 206.3L104.0 209.3L104.3 207.0L104.5 207.3L104.8 204.3L105.0 202.6L105.3 204.8L105.5 207.7L105.8 209.2L106.0 207.1L106.3 206.8L106.5 204.0L106.8 208.6L107.0 208.1L107.3 204.2L107.5 205.0L107.8 203.0L108.0 207.8L108.3 205.6L108.5 204.4L108.8 205.3L109.0 205.2L109.3 203.4L109.5 201.6L109.8 201.4L110.0 200.3L110.3 204.6L110.5 208.0L110.8 200.0L111.0 203.5L111.3 204.0L111.5 201.0L111.8 203.3L112.0 200.5L112.3 205.0L112.5 201.3L112.8 202.6L113.0 203.7L113.3 201.3L113.5 198.5L113.8 201.0L114.0 203.5L114.3 201.7L114.5 202.2L114.8 199.5L115.0 201.9L115.3 202.9L115.5 201.5L115.8 205.1L116.0 200.8L116.3 199.0L116.5 197.8L116.8 203.2L117.0 200.7L117.3 202.8L117.5 201.6L117.8 203.8L118.0 203.0L118.3 199.6L118.5 200.8L118.8 202.4L119.0 197.6L119.3 202.9L119.5 202.3L119.8 201.8L120.0 199.3L120.3 200.3L120.5 197.3L120.8 199.6L121.0 198.2L121.3 199.5L121.5 198.2L121.8 199.7L122.0 201.4L122.3 196.3L122.5 200.7L122.8 194.7L123.0 194.3L123.3 198.3L123.5 198.5L123.8 199.3L124.0 195.0L124.3 198.1L124.5 198.3L124.8 200.5L125.0 197.7L125.3 198.9L125.5 195.8L125.8 197.3L126.0 196.7L126.3 198.9L126.5 195.4L126.8 195.7L127.0 198.4L127.3 200.7L127.5 197.8L127.8 197.6L128.1 196.2L128.3 199.0L128.6 197.8L128.8 200.1L129.1 197.2L129.3 194.6L129.6 195.3L129.8 194.3L130.1 193.7L130.3 198.7L130.6 197.7L130.8 193.5L131.1 199.5L131.3 196.3L131.6 193.8L131.8 196.4L132.1 195.4L132.3 193.9L132.6 191.5L132.8 195.4L133.1 195.8L133.3 190.1L133.6 196.2L133.8 196.2L134.1 194.0L134.3 195.0L134.6 194.2L134.8 193.0L135.1 193.8L135.3 197.2L135.6 191.5L135.8 194.8L136.1 194.6L136.3 192.7L136.6 193.2L136.8 191.2L137.1 192.2L137.3 193.9L137.6 194.4L137.8 191.9L138.1 198.7L138.3 192.5L138.6 193.8L138.8 193.0L139.1 192.6L139.3 196.0L139.6 192.3L139.8 195.9L140.1 195.5L140.3 191.0L140.6 195.1L140.8 191.7L141.1 197.9L141.3 192.1L141.6 190.9L141.8 188.9L142.1 190.1L142.3 191.5L142.6 190.6L142.8 190.1L143.1 191.1L143.3 192.0L143.6 195.3L143.8 188.9L144.1 191.1L144.3 190.3L144.6 189.1L144.8 189.5L145.1 190.2L145.3 193.4L145.6 191.5L145.8 190.7L146.1 193.0L146.3 192.3L146.6 191.2L146.8 192.4L147.1 189.9L147.3 192.7L147.6 192.3L147.8 190.5L148.1 188.9L148.3 194.3L148.6 191.4L148.8 196.1L149.1 189.8L149.3 192.7L149.6 190.1L149.8 191.4L150.1 192.5L150.3 189.2L150.6 190.5L150.8 191.0L151.1 190.8L151.3 191.7L151.6 192.5L151.8 192.1L152.1 190.9L152.3 189.6L152.6 187.9L152.8 188.7L153.1 189.0L153.3 191.4L153.6 189.2L153.8 187.4L154.1 191.1L154.3 188.2L154.6 188.2L154.8 189.2L155.1 190.5L155.3 184.7L155.6 187.2L155.8 189.8L156.1 188.6L156.3 187.6L156.6 188.1L156.8 191.9L157.1 188.2L157.3 190.5L157.6 190.6L157.8 188.0L158.1 189.8L158.3 187.9L158.6 187.5L158.8 186.4L159.1 190.4L159.3 187.8L159.6 187.4L159.8 186.2L160.1 192.0L160.3 189.8L160.6 188.0L160.8 186.8L161.1 185.1L161.3 188.7L161.6 188.6L161.8 185.1L162.1 190.1L162.3 189.3L162.6 185.7L162.8 186.4L163.1 186.6L163.3 187.6L163.6 186.9L163.8 183.8L164.1 189.9L164.3 187.5L164.6 189.3L164.8 189.2L165.1 186.2L165.3 187.2L165.6 187.9L165.8 187.8L166.1 185.9L166.3 184.8L166.6 186.1L166.8 184.3L167.1 184.7L167.3 181.6L167.6 185.7L167.8 183.4L168.1 184.3L168.3 185.2L168.6 185.8L168.8 188.9L169.1 185.4L169.3 181.9L169.6 184.7L169.8 183.0L170.1 184.8L170.3 182.3L170.6 182.0L170.8 182.1L171.1 181.6L171.3 178.9L171.6 182.4L171.8 182.2L172.1 179.2L172.3 165.4L172.6 151.5L172.8 137.7L173.1 123.8L173.3 110.0L173.6 94.8L173.8 79.5L174.1 64.3L174.3 49.1L174.6 53.1L174.8 69.8L175.1 86.6L175.3 103.3L175.6 119.3L175.8 134.7L176.1 150.2L176.3 165.6L176.6 178.1L176.8 178.8L177.1 179.5L177.3 180.1L177.6 178.1L177.8 184.1L178.1 185.4L178.3 183.6L178.6 185.8L178.8 181.4L179.1 181.3L179.3 184.0L179.6 187.7L179.8 182.4L180.1 182.8L180.3 188.0L180.6 180.6L180.8 186.0L181.1 185.6L181.3 184.2L181.6 185.0L181.8 189.8L182.1 182.2L182.3 183.9L182.6 184.1L182.8 183.2L183.1 181.8L183.3 187.9L183.6 185.1L183.8 180.9L184.1 183.1L184.3 185.5L184.6 185.4L184.8 181.6L185.1 184.4L185.3 185.1L185.6 185.4L185.8 185.4L186.1 180.8L186.3 188.5L186.6 185.0L186.8 188.4L187.1 189.8L187.3 184.3L187.6 182.0L187.8 186.4L188.1 184.2L188.3 183.7L188.6 182.4L188.8 188.1L189.1 183.7L189.3 181.7L189.6 183.7L189.8 182.2L190.1 184.9L190.3 183.7L190.6 182.4L190.8 185.9L191.1 183.2L191.3 186.1L191.6 187.2L191.8 183.8L192.1 183.2L192.3 185.0L192.6 186.4L192.8 184.5L193.1 184.8L193.3 184.4L193.6 185.1L193.8 185.8L194.1 183.0L194.3 183.4L194.6 184.5L194.8 183.0L195.1 184.7L195.3 185.5L195.6 184.3L195.8 183.1L196.1 182.7L196.3 188.0L196.6 186.2L196.8 182.0L197.1 182.5L197.3 188.2L197.6 187.4L197.8 184.5L198.1 186.7L198.3 181.1L198.6 184.2L198.8 185.8L199.1 180.3L199.3 182.5L199.6 185.8L199.8 186.5L200.1 182.9L200.3 184.7L200.6 187.5L200.8 183.3L201.1 181.3L201.3 183.9L201.6 183.2L201.8 186.8L202.1 184.4L202.3 182.3L202.6 189.0L202.8 182.9L203.1 185.0L203.3 185.4L203.6 185.6L203.8 184.3L204.1 185.1L204.3 183.8L204.6 180.9L204.8 183.4L205.1 183.4L205.3 183.5L205.6 184.1L205.8 182.5L206.1 186.6L206.3 187.1L206.6 179.2L206.8 183.8L207.1 182.3L207.3 178.5L207.6 184.6L207.8 182.4L208.1 182.9L208.3 182.3L208.6 186.0L208.8 186.3L209.1 184.3L209.3 185.1L209.6 183.4L209.8 183.9L210.1 182.1L210.3 183.7L210.6 182.1L210.8 184.4L211.1 185.4L211.3 184.3L211.6 186.1L211.8 188.9L212.1 179.2L212.3 183.6L212.6 182.4L212.8 182.6L213.1 180.7L213.3 183.7L213.6 183.0L213.8 182.2L214.1 183.0L214.3 182.3L214.6 178.6L214.8 185.8L215.1 182.9L215.3 181.5L215.6 184.2L215.8 182.1L216.1 178.9L216.3 185.4L216.6 180.0L216.8 183.0L217.1 183.7L217.3 186.3L217.6 186.0L217.8 183.8L218.1 181.8L218.3 182.6L218.6 185.7L218.8 187.2L219.1 184.6L219.3 182.1L219.6 185.6L219.8 182.6L220.1 182.5L220.3 182.8L220.6 184.6L220.8 184.0L221.1 185.5L221.3 186.1L221.6 184.4L221.8 178.5L222.1 179.8L222.3 183.7L222.6 183.2L222.8 187.9L223.1 183.3L223.3 183.0L223.6 185.3L223.8 185.5L224.1 182.8L224.3 184.3L224.6 180.9L224.8 181.3L225.1 185.9L225.3 180.4L225.6 185.3L225.8 184.8L226.1 185.0L226.3 185.3L226.6 184.5L226.8 178.9L227.1 181.3L227.3 182.1L227.6 185.3L227.8 181.0L228.1 181.9L228.3 182.6L228.6 186.2L228.8 180.4L229.1 180.6L229.3 184.7L229.6 179.0L229.8 184.1L230.1 182.5L230.3 180.1L230.6 182.6L230.8 181.4L231.1 183.8L231.3 184.2L231.6 186.6L231.8 183.5L232.1 183.7L232.3 182.3L232.6 183.5L232.8 185.7L233.1 179.5L233.3 184.9L233.6 182.4L233.8 183.7L234.1 184.2L234.3 185.3L234.6 184.1L234.8 182.7L235.1 184.2L235.3 183.6L235.6 183.1L235.8 184.0L236.1 185.4L236.3 183.9L236.6 183.9L236.8 180.9L237.1 183.3L237.3 179.7L237.6 185.1L237.8 181.7L238.1 186.4L238.3 188.9L238.6 182.8L238.8 186.4L239.1 184.5L239.3 182.5L239.6 181.9L239.8 184.9L240.1 186.6L240.3 184.4L240.6 180.5L240.8 181.5L241.1 183.3L241.3 186.7L241.6 184.5L241.8 184.6L242.1 186.5L242.3 183.6L242.6 183.9L242.8 183.7L243.1 180.4L243.3 185.2L243.6 185.1L243.8 186.3L244.1 181.8L244.3 182.7L244.6 186.4L244.8 185.1L245.1 187.4L245.3 182.6L245.6 184.8L245.8 182.9L246.1 185.0L246.3 183.3L246.6 185.4L246.8 186.5L247.1 185.6L247.3 180.3L247.6 186.0L247.8 185.0L248.1 181.8L248.3 182.1L248.6 183.9L248.8 185.1L249.1 182.9L249.3 180.4L249.6 184.3L249.8 184.1L250.1 188.8L250.3 180.9L250.6 188.8L250.8 187.2L251.1 184.1L251.3 186.9L251.6 183.6L251.8 185.3L252.1 181.5L252.3 183.0L252.6 180.5L252.8 179.1L253.1 181.6L253.3 180.6L253.6 182.9L253.8 184.2L254.1 181.0L254.3 181.2L254.6 181.3L254.8 177.1L255.1 181.0L255.3 180.3L255.6 180.0L255.8 177.7L256.1 175.7L256.3 179.1L256.6 180.2L256.8 182.2L257.1 181.6L257.3 182.1L257.6 179.6L257.8 181.1L258.1 178.1L258.3 180.2L258.6 181.3L258.8 185.1L259.1 180.8L259.3 178.1L259.6 184.1L259.8 180.0L260.1 182.0L260.3 182.0L260.6 181.2L260.8 186.3L261.1 185.1L261.3 183.0L261.6 184.8L261.8 184.1L262.1 186.7L262.3 185.0L262.6 184.5L262.8 184.8L263.1 185.2L263.3 186.8L263.6 184.3L263.8 186.1L264.1 187.2L264.3 191.2L264.6 188.1L264.8 181.1L265.1 185.3L265.3 185.6L265.6 187.1L265.8 189.8L266.1 188.1L266.3 181.7L266.6 187.2L266.8 186.8L267.1 187.5L267.3 189.5L267.6 184.4L267.8 189.0L268.1 183.2L268.3 186.9L268.6 187.6L268.8 191.6L269.1 185.4L269.3 183.3L269.6 188.3L269.8 185.5L270.1 190.2L270.3 185.5L270.6 185.2L270.8 189.6L271.1 187.2L271.3 189.2L271.6 184.1L271.8 190.6L272.1 185.9L272.3 188.9L272.6 185.1L272.8 184.0L273.1 186.8L273.3 187.7L273.6 190.7L273.8 188.2L274.1 189.0L274.3 188.9L274.6 192.8L274.8 185.9L275.1 190.2L275.3 187.3L275.6 188.2L275.8 186.6L276.1 190.2L276.3 185.2L276.6 185.1L276.8 187.4L277.1 185.5L277.3 189.4L277.6 189.9L277.8 186.5L278.1 189.7L278.3 186.7L278.6 188.1L278.8 188.2L279.1 192.2L279.3 188.3L279.6 186.4L279.8 186.4L280.1 190.9L280.3 184.9L280.6 187.5L280.8 187.7L281.1 183.4L281.3 187.6L281.6 190.7L281.8 189.1L282.1 186.8L282.3 190.2L282.6 189.9L282.8 193.1L283.1 187.3L283.3 188.1L283.6 189.0L283.8 188.7L284.1 189.2L284.3 188.8L284.6 187.6L284.8 185.7L285.1 188.0L285.3 186.3L285.6 187.0L285.8 188.1L286.1 190.4L286.3 191.1L286.6 187.2L286.8 190.0L287.1 191.1L287.3 189.4L287.6 186.0L287.8 185.0L288.1 191.2L288.3 191.5L288.6 190.2L288.8 187.4L289.1 192.7L289.3 192.3L289.6 189.7L289.8 189.3L290.1 185.7L290.3 191.4L290.6 186.5L290.8 191.4L291.1 191.5L291.3 190.2L291.6 193.4L291.8 189.4L292.1 191.4L292.3 191.8L292.6 190.7L292.8 189.3L293.1 192.8L293.3 191.2L293.6 189.9L293.8 190.0L294.1 190.7L294.3 195.2L294.6 190.7L294.8 190.0L295.1 188.3L295.3 187.9L295.6 186.5L295.8 191.0L296.1 190.6L296.3 188.4L296.6 187.4L296.8 189.9L297.1 189.5L297.3 187.8L297.6 191.3L297.8 190.9L298.1 190.5L298.3 192.3L298.6 189.3L298.8 193.5L299.1 188.6L299.3 191.8L299.6 192.1L299.8 190.2L300.1 191.5L300.3 188.1L300.6 187.6L300.8 190.4L301.1 189.3L301.3 192.1L301.6 190.9L301.8 192.1L302.1 191.5L302.3 191.3L302.6 191.1L302.8 190.1L303.1 189.9L303.3 195.2L303.6 187.2L303.8 190.6L304.1 193.1L304.3 191.9L304.6 194.0L304.8 192.2L305.1 188.4L305.3 190.4L305.6 188.2L305.8 193.2L306.1 194.2L306.3 190.3L306.6 192.4L306.8 190.5L307.1 188.4L307.3 190.5L307.6 188.2L307.8 190.4L308.1 192.0L308.3 193.2L308.6 194.4L308.8 191.1L309.1 192.3L309.3 192.7L309.6 193.1L309.8 186.8L310.1 190.4L310.3 193.7L310.6 189.8L310.8 192.7L311.1 194.0L311.3 188.3L311.6 191.9L311.8 192.9L312.1 192.4L312.3 189.3L312.6 193.2L312.8 191.4L313.1 194.4L313.3 193.7L313.6 191.7L313.8 193.3L314.1 191.6L314.3 191.7L314.6 190.0L314.8 192.9L315.1 195.2L315.3 193.8L315.6 193.6L315.8 192.5L316.1 192.8L316.3 195.6L316.6 191.0L316.8 198.5L317.1 194.2L317.3 199.0L317.6 197.0L317.8 193.7" stroke="#f00" stroke-width="0.75"/>
</g>
<g clip-path="url(#cb)" fill="none" stroke-linejoin="round">
<path d="M375.6 33.0L375.9 52.0L376.2 36.0L376.5 55.5L376.9 40.0L377.2 50.0L377.5 42.0L377.7 38.0L380.5 46.7L383.1 39.5L385.3 38.0L388.0 36.1L388.7 36.0L389.4 36.3L390.1 35.8L390.8 35.1L391.5 35.2L392.2 34.8L392.9 33.8L393.6 33.6L394.3 32.2L395.0 31.6L395.7 30.8L396.4 29.8L397.1 29.1L397.8 29.2L398.5 30.2L399.2 30.2L399.9 30.7L400.6 30.2L401.3 29.2L402.0 28.3L402.7 28.7L403.4 27.5L404.1 27.1L404.8 27.2L405.5 26.5L406.2 25.9L406.9 25.8L407.6 24.9L408.3 25.7L409.0 25.6L409.7 25.4L410.4 26.1L411.1 26.8L411.8 26.4L412.5 27.2L413.2 27.3L413.9 28.1L414.6 28.5L415.3 28.4L416.0 29.4L416.7 29.6L417.4 30.0L418.1 30.6L418.8 31.0L419.5 32.3L420.2 33.4L420.9 33.6L421.6 35.3L422.3 35.7L423.0 36.8L423.7 37.4L424.4 38.9L425.1 38.8L425.8 39.1L426.5 38.3L427.2 38.3L427.9 37.9L428.6 37.9L429.3 37.3L430.0 37.0L430.7 37.3L431.4 37.1L432.1 36.5L432.8 36.4L433.5 35.3L434.2 35.5L434.9 34.4L435.6 34.8L436.3 33.9L437.0 33.3L437.7 33.1L438.4 32.3L439.1 31.7L439.8 30.4L440.5 30.2L441.2 29.3L441.9 30.0L442.6 30.6L443.3 31.9L444.0 31.8L444.7 32.5L445.4 33.2L446.1 34.0L446.8 34.6L447.5 34.8L448.2 34.7L448.9 35.5L449.6 36.2L450.3 36.0L451.0 37.1L451.7 37.6L452.4 38.6L453.1 39.5L453.8 40.3L454.5 40.9L455.2 41.7L455.9 41.7L456.6 42.1L457.3 41.8L458.0 42.3L458.7 42.5L459.4 42.8L460.1 42.6L460.8 42.3L461.5 44.2L462.2 45.5L462.9 47.6L463.6 48.9L464.3 50.5L465.0 52.7L465.7 53.8L466.4 52.7L467.1 50.6L467.8 48.7L468.5 46.1L469.2 44.2L469.9 42.3L470.6 41.2L471.3 42.6L472.0 44.1L472.7 45.2L473.4 46.4L474.1 47.4L474.8 46.6L475.5 45.3L476.2 44.7L476.9 43.8L477.6 43.0L478.3 42.6L479.0 41.6L479.7 41.2L480.4 40.5L481.1 39.3L481.8 39.2L482.5 40.5L483.2 42.2L483.9 40.3L484.6 37.9L485.3 36.6L486.0 35.8L486.7 35.3L487.4 34.3L488.1 33.4L488.8 33.4L489.5 32.2L490.2 32.0L490.9 32.0L491.6 31.9L492.3 31.6L493.0 31.8L493.7 32.1L494.4 31.1L495.1 31.4L495.8 31.7L496.5 32.0L497.2 32.2L497.9 31.5L498.6 32.0L499.3 32.4L500.0 31.7L500.7 32.3L501.4 32.0L502.1 32.7L502.8 33.0L503.5 32.7L504.2 32.3L504.9 32.4L505.6 32.9L506.3 33.5L507.0 33.1L507.7 33.7L508.4 33.7L509.1 33.8L509.8 34.4L510.5 34.2L511.2 34.5L511.9 35.1L512.6 35.1L513.3 35.6L514.0 35.5L514.7 35.4L515.4 35.8L516.1 36.3L516.8 36.1L517.5 36.6L518.2 35.7L518.9 36.1L519.6 36.6L520.3 36.6L521.0 36.6L521.7 36.8L522.4 37.1L523.1 37.0L523.8 36.9L524.5 37.7L525.2 38.6L525.9 39.1L526.6 40.2L527.3 40.9L528.0 41.9L528.7 41.1L529.4 39.9L530.1 39.7L530.8 40.5L531.5 41.2L532.2 42.1L532.9 42.8L533.6 42.3L534.3 41.9L535.0 40.6L535.7 40.7L536.4 40.7L537.1 41.0L537.8 40.3L538.5 40.4L539.2 41.4L539.9 41.1L540.6 41.1L541.3 41.4L542.0 41.8L542.7 41.5L543.4 42.0L544.1 42.3L544.8 42.5L545.5 42.0L546.2 42.9L546.9 42.7L547.6 42.9L548.3 43.2L549.0 43.1L549.7 43.9L550.4 43.4L551.1 44.0L551.8 43.8L552.5 44.4L553.2 44.9L553.9 45.1L554.6 44.6L555.3 45.2L556.0 45.7L556.7 45.2L557.4 45.6L558.1 46.1L558.8 46.3L559.5 46.4L560.2 46.9L560.9 47.2L561.6 47.2L562.3 47.8L563.0 48.0L563.7 48.5L564.4 48.6L565.1 48.7L565.8 49.1L566.5 49.9L567.2 49.5L567.9 50.4L568.6 52.1L569.3 54.7L570.0 56.6L570.7 56.1L571.4 55.8L572.1 55.3L572.8 56.1L573.5 56.9L574.2 58.3L574.9 59.8L575.6 62.6L576.3 64.3L577.0 66.8L577.7 64.4L578.4 62.0L579.1 59.8L579.8 59.4L580.5 58.8L581.2 57.9L581.9 57.7L582.6 57.6L583.3 57.5L584.0 56.9L584.7 57.7L585.4 57.6L586.1 57.7L586.8 57.9L587.5 58.9L588.2 59.7L588.9 60.0L589.6 60.5L590.3 61.3L591.0 62.3L591.7 62.9L592.4 62.6L593.1 63.0L593.8 63.9L594.5 63.8L595.2 64.2L595.9 64.9L596.6 65.6L597.3 66.6L598.0 67.2L598.7 67.8L599.4 68.6L600.1 70.3L600.8 70.1L601.5 71.7L602.2 72.7L602.9 72.9L603.6 73.6L604.3 74.8L605.0 75.6L605.7 76.6L606.4 77.4L607.1 78.8L607.8 78.8L608.5 80.5L609.2 80.7L609.9 82.7L610.6 83.2L611.3 84.7L612.0 86.3L612.7 89.0L613.4 91.5L614.1 93.7L614.8 95.0L615.5 95.4L616.2 96.6L616.9 97.4L617.6 97.3L618.3 98.5L619.0 98.3L619.7 97.7L620.4 97.1L621.1 97.0L621.8 95.9L622.5 95.5L623.2 95.0L623.9 97.5L624.6 97.2L625.3 94.0L626.0 98.3L626.7 92.0L627.4 90.8L628.1 89.9L628.8 88.8L629.5 88.1L630.2 87.5L630.9 86.8L631.6 85.0L632.3 83.4L633.0 82.2L633.7 80.3L634.4 77.3L635.1 75.2L635.8 73.8L636.5 71.8L637.2 72.3L637.9 73.1L638.6 73.0L639.3 71.9L640.0 72.4L640.7 71.9L641.4 70.9L642.1 70.5L642.8 70.6L643.5 71.2L644.2 71.2L644.9 71.7L645.6 72.1L646.3 71.7L647.0 72.0L647.7 71.4L648.4 72.5L649.1 72.7L649.8 73.8L650.5 75.3L651.2 75.9L651.9 76.7L652.6 77.2L653.3 78.2L654.0 77.5L654.7 76.6L655.4 76.5L656.1 75.4L656.8 75.1L657.5 75.2L658.2 76.2L658.9 76.4L659.6 76.5L660.3 76.2L661.0 75.9L661.7 76.1L662.4 75.3" stroke="#f00" stroke-width="1.2"/>
<path d="M375.7 109.2L376.0 150.0L376.3 115.0L376.6 160.7L376.9 125.0L377.2 140.0L377.5 126.0L377.7 123.5L380.5 135.5L382.0 123.5L384.2 131.1L385.8 120.8L389.7 123.9L390.4 122.5L391.1 121.9L391.8 119.9L392.5 119.4L393.2 118.1L393.9 117.5L394.6 115.8L395.3 115.5L396.0 114.2L396.7 113.5L397.4 112.1L398.1 112.5L398.8 113.3L399.5 114.0L400.2 113.8L400.9 114.7L401.6 114.4L402.3 113.4L403.0 113.5L403.7 113.4L404.4 113.3L405.1 112.8L405.8 112.0L406.5 112.1L407.2 111.8L407.9 111.6L408.6 112.0L409.3 111.6L410.0 111.8L410.7 112.3L411.4 112.7L412.1 113.3L412.8 113.2L413.5 113.1L414.2 114.1L414.9 113.9L415.6 114.3L416.3 114.6L417.0 115.1L417.7 116.3L418.4 117.2L419.1 117.4L419.8 118.4L420.5 119.1L421.2 120.1L421.9 121.2L422.6 123.1L423.3 124.1L424.0 124.8L424.7 126.2L425.4 126.7L426.1 128.7L426.8 128.9L427.5 129.1L428.2 128.4L428.9 128.4L429.6 128.3L430.3 128.8L431.0 128.1L431.7 128.1L432.4 128.4L433.1 128.3L433.8 127.5L434.5 127.0L435.2 127.0L435.9 125.8L436.6 125.7L437.3 125.7L438.0 125.3L438.7 124.1L439.4 123.5L440.1 123.8L440.8 124.5L441.5 125.0L442.2 126.1L442.9 126.6L443.6 128.1L444.3 128.8L445.0 128.8L445.7 127.9L446.4 128.1L447.1 127.5L447.8 127.5L448.5 128.1L449.2 129.2L449.9 129.9L450.6 130.8L451.3 131.0L452.0 132.1L452.7 132.8L453.4 134.0L454.1 135.0L454.8 135.5L455.5 136.8L456.2 136.7L456.9 136.8L457.6 137.0L458.3 137.4L459.0 137.6L459.7 138.3L460.4 139.5L461.1 141.2L461.8 142.0L462.5 143.6L463.2 145.3L463.9 151.8L464.6 158.7L465.3 160.4L466.0 162.8L466.7 161.3L467.4 157.1L468.1 153.7L468.8 150.7L469.5 147.9L470.2 144.8L470.9 145.9L471.6 148.7L472.3 151.4L473.0 154.3L473.7 156.2L474.4 156.7L475.1 155.7L475.8 153.8L476.5 152.9L477.2 151.7L477.9 151.1L478.6 150.6L479.3 149.9L480.0 148.8L480.7 149.0L481.4 148.4L482.1 149.6L482.8 152.0L483.5 154.2L484.2 150.8L484.9 146.6L485.6 146.1L486.3 144.5L487.0 144.6L487.7 143.0L488.4 142.9L489.1 141.4L489.8 141.5L490.5 141.8L491.2 142.1L491.9 141.8L492.6 142.0L493.3 141.7L494.0 142.1L494.7 141.8L495.4 142.4L496.1 142.3L496.8 142.0L497.5 142.6L498.2 142.2L498.9 143.3L499.6 143.4L500.3 143.3L501.0 143.9L501.7 144.4L502.4 144.5L503.1 145.1L503.8 144.9L504.5 145.2L505.2 145.6L505.9 145.8L506.6 146.4L507.3 147.0L508.0 147.5L508.7 147.6L509.4 148.1L510.1 148.7L510.8 148.5L511.5 148.1L512.2 148.8L512.9 148.3L513.6 149.1L514.3 149.6L515.0 149.2L515.7 149.8L516.4 149.0L517.1 150.1L517.8 149.4L518.5 150.2L519.2 149.8L519.9 150.1L520.6 150.0L521.3 150.3L522.0 151.5L522.7 151.9L523.4 151.7L524.1 152.6L524.8 152.7L525.5 154.6L526.2 155.2L526.9 157.1L527.6 158.8L528.3 157.8L529.0 157.0L529.7 156.2L530.4 155.5L531.1 157.1L531.8 158.0L532.5 160.2L533.2 160.4L533.9 159.2L534.6 157.5L535.3 156.5L536.0 157.1L536.7 156.6L537.4 157.6L538.1 157.4L538.8 158.3L539.5 158.0L540.2 158.6L540.9 158.6L541.6 159.5L542.3 159.2L543.0 159.6L543.7 160.2L544.4 160.0L545.1 160.8L545.8 160.6L546.5 161.3L547.2 161.4L547.9 161.8L548.6 161.8L549.3 161.6L550.0 162.1L550.7 162.7L551.4 163.0L552.1 162.6L552.8 162.9L553.5 163.2L554.2 163.9L554.9 163.7L555.6 164.5L556.3 164.4L557.0 165.3L557.7 165.0L558.4 166.0L559.1 165.7L559.8 165.7L560.5 166.2L561.2 167.2L561.9 166.9L562.6 167.3L563.3 168.4L564.0 168.2L564.7 168.7L565.4 169.0L566.1 169.2L566.8 170.0L567.5 169.5L568.2 170.2L568.9 170.9L569.6 172.0L570.3 173.0L571.0 173.2L571.7 174.0L572.4 174.3L573.1 174.5L573.8 175.1L574.5 175.9L575.2 177.4L575.9 178.1L576.6 179.4L577.3 180.5L578.0 180.3L578.7 179.0L579.4 178.2L580.1 177.9L580.8 178.1L581.5 177.8L582.2 178.0L582.9 177.5L583.6 178.0L584.3 178.0L585.0 177.8L585.7 178.4L586.4 178.7L587.1 178.8L587.8 179.0L588.5 179.7L589.2 180.1L589.9 181.3L590.6 181.6L591.3 182.4L592.0 183.2L592.7 183.6L593.4 184.3L594.1 184.6L594.8 185.2L595.5 185.9L596.2 185.8L596.9 186.6L597.6 187.7L598.3 188.1L599.0 189.1L599.7 190.6L600.4 192.1L601.1 192.8L601.8 193.6L602.5 195.5L603.2 196.3L603.9 197.5L604.6 198.4L605.3 200.1L606.0 201.9L606.7 202.7L607.4 204.3L608.1 205.7L608.8 206.1L609.5 208.7L610.2 211.0L610.9 214.3L611.6 217.5L612.3 219.8L613.0 222.1L613.7 223.4L614.4 225.5L615.1 227.3L615.8 228.9L616.5 230.4L617.2 232.3L617.9 232.9L618.6 234.4L619.3 235.2L620.0 234.1L620.7 232.8L621.4 232.6L622.1 232.0L622.8 232.9L623.5 236.4L624.2 230.6L624.9 235.1L625.6 226.6L626.3 224.5L627.0 222.9L627.7 222.1L628.4 221.0L629.1 220.0L629.8 219.0L630.5 217.5L631.2 216.1L631.9 213.5L632.6 211.6L633.3 208.4L634.0 206.4L634.7 203.5L635.4 202.1L636.1 199.9L636.8 198.0L637.5 198.3L638.2 198.8L638.9 199.5L639.6 198.8L640.3 197.7L641.0 196.6L641.7 195.8L642.4 196.1L643.1 196.1L643.8 198.0L644.5 198.3L645.2 198.8L645.9 197.9L646.6 198.0L647.3 198.2L648.0 199.1L648.7 200.7L649.4 201.4L650.1 202.6L650.8 204.3L651.5 205.1L652.2 206.5L652.9 205.6L653.6 205.1L654.3 205.5L655.0 204.9L655.7 204.6L656.4 202.8L657.1 202.5L657.8 203.2L658.5 203.6L659.2 203.6L659.9 204.6L660.6 204.7L661.3 204.5L662.0 205.2L662.7 204.4" stroke="#000" stroke-width="1.2"/>
</g>
<g clip-path="url(#cc)" fill="none" stroke-linejoin="round">
<path d="M226.9 505.4L227.1 507.3L227.4 503.0L227.6 500.2L227.9 497.1L228.1 500.5L228.3 502.6L228.6 503.1L228.8 497.0L229.0 493.3L229.3 497.9L229.5 503.1L229.8 501.7L230.0 491.8L230.2 496.6L230.5 503.4L230.7 496.9L230.9 500.5L231.2 498.1L231.4 497.2L231.7 497.7L231.9 492.6L232.1 494.6L232.4 496.3L232.6 492.3L232.9 490.4L233.1 499.3L233.3 493.9L233.6 496.3L233.8 493.0L234.0 496.9L234.3 491.7L234.5 491.6L234.8 492.3L235.0 494.8L235.2 492.1L235.5 494.4L235.7 495.0L236.0 488.9L236.2 493.5L236.4 484.7L236.7 486.1L236.9 495.8L237.1 487.0L237.4 491.8L237.6 487.2L237.9 486.8L238.1 494.0L238.3 487.1L238.6 486.9L238.8 482.0L239.0 489.6L239.3 482.1L239.5 488.6L239.8 485.4L240.0 487.0L240.2 478.1L240.5 481.0L240.7 473.7L241.0 480.1L241.2 479.0L241.4 478.1L241.7 482.5L241.9 479.4L242.1 473.1L242.4 478.5L242.6 475.2L242.9 475.0L243.1 471.6L243.3 474.1L243.6 472.3L243.8 469.7L244.1 469.2L244.3 471.7L244.5 464.1L244.8 471.2L245.0 469.8L245.2 469.0L245.5 459.6L245.7 463.5L246.0 464.7L246.2 464.2L246.4 457.3L246.7 461.6L246.9 461.2L247.1 453.0L247.4 458.5L247.6 454.0L247.9 451.7L248.1 452.1L248.3 449.4L248.6 443.0L248.8 448.7L249.1 450.3L249.3 451.2L249.5 443.9L249.8 443.2L250.0 439.7L250.2 441.2L250.5 440.1L250.7 439.8L251.0 437.8L251.2 434.1L251.4 434.8L251.7 431.8L251.9 423.9L252.1 427.9L252.4 434.3L252.6 420.8L252.9 424.7L253.1 428.2L253.3 420.1L253.6 422.2L253.8 423.3L254.1 422.1L254.3 422.2L254.5 417.1L254.8 412.1L255.0 416.0L255.2 412.0L255.5 405.2L255.7 415.2L256.0 408.3L256.2 408.9L256.4 410.2L256.7 408.6L256.9 403.4L257.2 400.2L257.4 402.3L257.6 398.7L257.9 394.0L258.1 392.1L258.3 386.5L258.6 384.5L258.8 386.7L259.1 384.0L259.3 390.7L259.5 394.7L259.8 394.4L260.0 402.3L260.2 402.0L260.5 399.4L260.7 401.1L261.0 398.8L261.2 405.6L261.4 412.1L261.7 400.5L261.9 404.8L262.2 413.9L262.4 405.9L262.6 412.0L262.9 419.9L263.1 416.2L263.3 417.9L263.6 411.5L263.8 421.8L264.1 421.3L264.3 422.8L264.5 424.6L264.8 428.0L265.0 425.2L265.3 423.5L265.5 426.4L265.7 433.1L266.0 434.9L266.2 431.1L266.4 435.1L266.7 435.7L266.9 440.6L267.2 428.0L267.4 432.8L267.6 440.7L267.9 434.6L268.1 434.0L268.3 449.0L268.6 443.3L268.8 443.8L269.1 441.1L269.3 445.1L269.5 446.6L269.8 447.1L270.0 441.1L270.3 441.1L270.5 452.2L270.7 454.9L271.0 442.9L271.2 457.3L271.4 456.9L271.7 455.8L271.9 455.2L272.2 454.1L272.4 457.4L272.6 463.1L272.9 458.9L273.1 460.8L273.3 455.8L273.6 463.8L273.8 469.6L274.1 469.5L274.3 461.2L274.5 469.6L274.8 476.4L275.0 471.7L275.3 470.5L275.5 467.0L275.7 476.2L276.0 470.9L276.2 471.3L276.4 477.8L276.7 476.9L276.9 470.6L277.2 471.7L277.4 475.9L277.6 478.8L277.9 476.7L278.1 482.4L278.4 483.2L278.6 487.0L278.8 484.8L279.1 486.0L279.3 477.0L279.5 488.0L279.8 482.9L280.0 483.1L280.3 489.1L280.5 484.4L280.7 497.2L281.0 489.2L281.2 486.7L281.4 499.2L281.7 494.9L281.9 487.1L282.2 492.3L282.4 495.8L282.6 493.5L282.9 494.5L283.1 490.2L283.4 491.6L283.6 494.9L283.8 496.9L284.1 495.2L284.3 490.6L284.5 494.8L284.8 494.3L285.0 497.8L285.3 502.6L285.5 501.0L285.7 497.1L286.0 501.6L286.2 507.9L286.4 513.0L286.7 509.1L286.9 513.2L287.2 519.2L287.4 511.3L287.6 506.4L287.9 503.8L288.1 498.6L288.4 496.1L288.6 493.5L288.8 495.1L289.1 499.0L289.3 497.6L289.5 495.2L289.8 497.8L290.0 494.3L290.3 491.7L290.5 498.6L290.7 501.8L291.0 490.7L291.2 495.5L291.5 493.4L291.7 501.4L291.9 490.5L292.2 494.6L292.4 498.3L292.6 499.5L292.9 498.2L293.1 499.7L293.4 500.6L293.6 504.2L293.8 495.7L294.1 500.0L294.3 498.4L294.5 497.3L294.8 505.3L295.0 493.4L295.3 495.5L295.5 494.2L295.7 491.8L296.0 494.5L296.2 486.7L296.5 491.3L296.7 490.9L296.9 489.7L297.2 484.7L297.4 481.4L297.6 485.3L297.9 487.6L298.1 477.7L298.4 485.4L298.6 476.7L298.8 481.0L299.1 483.1L299.3 482.6L299.6 478.2L299.8 476.3L300.0 480.1L300.3 475.5L300.5 471.0L300.7 479.3L301.0 482.5L301.2 481.8L301.5 482.8L301.7 479.7L301.9 479.7L302.2 481.7L302.4 474.5L302.6 485.8L302.9 480.8L303.1 468.1L303.4 471.5L303.6 473.2L303.8 473.3L304.1 468.3L304.3 472.7L304.6 474.2L304.8 478.9L305.0 474.4L305.3 476.7L305.5 476.4L305.7 476.3L306.0 473.6L306.2 474.5L306.5 469.9L306.7 477.9L306.9 473.4L307.2 465.7L307.4 472.3L307.6 467.8L307.9 467.9L308.1 467.0L308.4 469.0L308.6 478.2L308.8 475.5L309.1 477.2L309.3 482.9L309.6 480.2L309.8 484.5L310.0 487.4L310.3 481.8L310.5 484.1L310.7 487.8L311.0 490.2L311.2 488.9L311.5 488.7L311.7 489.0L311.9 488.0L312.2 489.7L312.4 486.9L312.7 486.7L312.9 487.6L313.1 491.7L313.4 491.8L313.6 488.2L313.8 490.9L314.1 490.6L314.3 500.0L314.6 500.7L314.8 490.0L315.0 490.4L315.3 486.7L315.5 489.5L315.7 491.6L316.0 492.7L316.2 498.4L316.5 490.1L316.7 495.9L316.9 492.2L317.2 493.6L317.4 493.7L317.7 491.7L317.9 497.2L318.1 497.1L318.4 499.2L318.6 497.8L318.8 490.5L319.1 498.4L319.3 493.0L319.6 494.6L319.8 495.3L320.0 495.4L320.3 502.5L320.5 496.8L320.8 491.7L321.0 499.6L321.2 496.6L321.5 498.4L321.7 494.1L321.9 498.7L322.2 488.2L322.4 495.0L322.7 498.8L322.9 485.8L323.1 488.3L323.4 489.4L323.6 488.8L323.8 491.5L324.1 490.4L324.3 487.1L324.6 486.9L324.8 487.4L325.0 490.6L325.3 493.7L325.5 493.2L325.8 488.9L326.0 488.3L326.2 495.4L326.5 496.5L326.7 490.6L326.9 493.1L327.2 493.8L327.4 501.8L327.7 498.8L327.9 499.9L328.1 497.8L328.4 504.7L328.6 493.2L328.8 496.4L329.1 495.4L329.3 501.0L329.6 496.2L329.8 490.7L330.0 501.0L330.3 493.5L330.5 491.5L330.8 498.2L331.0 490.9L331.2 496.3L331.5 488.7L331.7 492.1L331.9 493.5L332.2 484.8L332.4 490.4L332.7 488.1L332.9 500.1L333.1 497.4L333.4 490.2L333.6 489.8L333.9 494.4L334.1 490.3L334.3 499.1L334.6 492.9L334.8 499.5L335.0 492.2L335.3 496.1L335.5 496.8L335.8 493.4L336.0 484.8L336.2 498.5L336.5 496.4L336.7 488.3L336.9 495.4L337.2 484.8L337.4 492.2L337.7 492.8L337.9 491.5L338.1 484.7L338.4 489.9L338.6 490.4L338.9 491.6L339.1 500.3L339.3 497.0L339.6 485.4L339.8 488.6L340.0 490.0L340.3 489.3L340.5 494.9L340.8 490.6L341.0 496.5L341.2 490.1L341.5 495.4L341.7 492.9L342.0 489.6L342.2 493.3L342.4 488.5L342.7 489.3L342.9 489.7L343.1 484.9L343.4 498.4L343.6 498.9L343.9 488.1L344.1 486.5L344.3 481.2L344.6 487.2L344.8 486.8L345.0 495.0L345.3 487.0L345.5 487.3L345.8 495.5L346.0 494.7L346.2 490.7L346.5 488.5L346.7 502.2L347.0 489.1L347.2 488.1L347.4 489.8L347.7 487.4L347.9 486.3L348.1 493.1L348.4 486.0L348.6 489.0L348.9 492.1L349.1 486.3L349.3 479.9L349.6 493.9L349.8 494.6L350.0 494.4L350.3 476.6L350.5 487.1L350.8 486.0L351.0 489.0L351.2 489.3L351.5 494.0L351.7 482.9L352.0 482.0L352.2 492.3L352.4 487.3L352.7 485.4L352.9 481.4L353.1 479.6L353.4 474.9L353.6 473.2L353.9 474.2L354.1 473.0L354.3 485.6L354.6 483.2L354.8 475.4L355.1 480.1L355.3 481.9L355.5 492.0L355.8 491.9L356.0 479.9L356.2 482.3L356.5 485.8L356.7 486.9L357.0 493.7L357.2 484.0L357.4 481.1L357.7 478.4L357.9 486.4L358.1 487.9L358.4 492.5L358.6 481.6L358.9 479.5L359.1 491.0L359.3 486.9L359.6 488.1L359.8 491.6L360.1 501.2L360.3 491.2L360.5 486.8L360.8 497.0L361.0 494.3L361.2 503.1L361.5 484.6L361.7 488.7L362.0 491.1L362.2 492.6L362.4 494.4L362.7 491.7L362.9 492.8L363.2 492.5L363.4 491.5L363.6 490.7L363.9 483.9L364.1 498.4L364.3 490.1L364.6 494.4L364.8 496.9L365.1 502.9L365.3 488.5L365.5 496.2L365.8 495.1L366.0 489.2L366.2 496.7L366.5 491.4L366.7 491.9L367.0 487.6L367.2 486.6L367.4 495.7L367.7 487.1L367.9 492.0L368.2 491.0L368.4 492.6L368.6 487.8L368.9 497.5L369.1 490.4L369.3 485.9L369.6 493.0L369.8 481.8L370.1 495.2L370.3 490.6L370.5 494.0L370.8 494.7L371.0 497.1L371.2 494.3L371.5 492.0L371.7 495.6L372.0 487.5L372.2 484.4L372.4 499.1L372.7 487.7L372.9 490.8L373.2 490.6L373.4 479.9L373.6 486.0L373.9 490.2L374.1 490.9L374.3 502.2L374.6 488.0L374.8 495.4L375.1 490.9L375.3 491.3L375.5 487.2L375.8 482.0L376.0 487.1L376.3 485.7L376.5 493.0L376.7 489.7L377.0 488.1L377.2 498.8L377.4 482.0L377.7 495.4L377.9 498.1L378.2 484.0L378.4 481.7L378.6 495.3L378.9 494.9L379.1 479.4L379.3 491.4L379.6 501.6L379.8 494.9L380.1 482.3L380.3 488.8L380.5 488.4L380.8 486.1L381.0 488.8L381.3 493.6L381.5 499.8L381.7 489.9L382.0 497.5L382.2 492.3L382.4 483.6L382.7 489.5L382.9 491.8L383.2 491.8L383.4 488.6L383.6 487.7L383.9 498.5L384.1 491.3L384.4 483.9L384.6 488.5L384.8 495.9L385.1 495.5L385.3 502.2L385.5 496.0L385.8 484.4L386.0 492.5L386.3 496.3L386.5 494.9L386.7 492.7L387.0 492.7L387.2 493.8L387.4 495.8L387.7 489.0L387.9 484.6L388.2 494.8L388.4 494.7L388.6 486.3L388.9 499.1L389.1 494.9L389.4 493.8L389.6 491.2L389.8 493.3L390.1 496.2L390.3 490.4L390.5 497.7L390.8 500.3L391.0 501.7L391.3 488.3L391.5 500.3L391.7 489.7L392.0 488.6L392.2 487.9L392.4 492.7L392.7 494.5L392.9 491.4L393.2 494.6L393.4 498.0L393.6 485.7L393.9 496.1L394.1 483.0L394.4 489.2L394.6 493.9L394.8 489.6L395.1 485.7L395.3 498.3L395.5 496.1L395.8 496.7L396.0 490.8L396.3 489.6L396.5 491.4L396.7 495.1L397.0 494.1L397.2 485.8L397.5 486.1L397.7 490.9L397.9 497.8L398.2 488.4L398.4 490.1L398.6 490.2L398.9 483.1L399.1 487.5L399.4 496.1L399.6 496.1L399.8 484.7L400.1 490.4L400.3 487.1L400.5 491.9L400.8 495.9L401.0 489.7L401.3 483.5L401.5 489.4L401.7 496.4L402.0 492.5L402.2 493.4L402.5 490.1L402.7 486.0L402.9 481.3L403.2 489.8L403.4 492.9L403.6 490.5L403.9 490.7L404.1 492.9L404.4 490.7L404.6 490.8L404.8 496.5L405.1 488.2L405.3 492.6L405.6 495.6L405.8 488.4L406.0 493.2L406.3 482.4L406.5 488.5L406.7 490.5L407.0 494.5L407.2 492.8L407.5 486.8L407.7 494.2L407.9 487.2L408.2 501.0L408.4 489.9L408.6 487.0L408.9 489.3L409.1 490.9L409.4 486.0L409.6 495.0L409.8 495.7L410.1 490.4L410.3 485.1L410.6 488.8L410.8 491.9L411.0 489.5L411.3 488.8L411.5 496.9L411.7 503.9L412.0 495.9L412.2 498.1L412.5 493.7L412.7 496.7L412.9 495.1L413.2 488.8L413.4 490.4L413.6 491.0L413.9 482.9L414.1 493.1L414.4 492.7L414.6 484.7L414.8 496.2L415.1 498.7L415.3 484.5L415.6 489.2L415.8 487.9L416.0 487.7L416.3 486.4L416.5 493.1L416.7 491.2L417.0 496.2L417.2 490.1L417.5 489.6L417.7 492.7L417.9 487.0L418.2 477.9L418.4 495.2L418.7 485.3L418.9 484.5L419.1 483.6L419.4 492.3L419.6 482.4L419.8 484.7L420.1 488.2L420.3 488.9L420.6 485.8L420.8 482.2L421.0 482.1L421.3 475.1L421.5 487.5L421.7 482.5L422.0 487.3L422.2 481.2L422.5 484.0L422.7 487.3L422.9 490.5L423.2 487.8L423.4 483.0L423.7 477.1L423.9 480.5L424.1 490.1L424.4 486.8L424.6 484.3L424.8 485.2L425.1 484.5L425.3 481.1L425.6 484.0L425.8 488.5L426.0 494.6L426.3 487.0L426.5 493.6L426.7 486.4L427.0 484.2L427.2 492.3L427.5 486.6L427.7 487.7L427.9 477.0L428.2 484.1L428.4 495.5L428.7 484.4L428.9 484.6L429.1 487.7L429.4 488.6L429.6 484.3L429.8 484.3L430.1 485.8L430.3 493.1L430.6 489.8L430.8 496.5L431.0 496.6L431.3 492.4L431.5 495.1L431.8 492.4L432.0 478.7L432.2 488.7L432.5 495.7L432.7 502.3L432.9 496.2L433.2 499.5L433.4 506.0L433.7 488.6L433.9 495.8L434.1 490.3L434.4 476.7L434.6 491.3L434.8 492.3L435.1 490.9L435.3 494.5L435.6 497.9L435.8 494.2L436.0 486.1L436.3 494.6L436.5 501.1L436.8 500.4L437.0 499.1L437.2 492.8L437.5 490.0L437.7 490.0L437.9 485.8L438.2 494.0L438.4 487.8L438.7 490.8L438.9 488.5L439.1 503.6L439.4 485.2L439.6 501.8L439.9 499.2L440.1 487.9L440.3 494.8L440.6 481.9L440.8 491.5L441.0 498.5L441.3 491.4L441.5 494.7L441.8 483.1L442.0 482.6L442.2 487.9L442.5 494.7L442.7 491.8L442.9 486.0L443.2 497.1L443.4 497.0L443.7 487.2L443.9 487.9L444.1 493.7L444.4 493.9L444.6 503.9L444.9 485.2L445.1 493.0L445.3 500.8L445.6 499.0L445.8 497.6L446.0 482.1L446.3 488.1L446.5 500.2L446.8 481.2L447.0 484.3L447.2 498.5L447.5 507.7L447.7 486.5L447.9 495.8L448.2 493.0L448.4 495.3L448.7 484.7L448.9 483.4L449.1 487.4L449.4 493.1L449.6 490.7L449.9 488.5L450.1 501.6L450.3 484.8L450.6 494.1L450.8 490.6L451.0 491.4L451.3 486.8L451.5 485.8L451.8 479.0L452.0 494.3L452.2 497.5L452.5 491.3L452.7 496.0L453.0 487.0L453.2 496.9L453.4 491.3L453.7 486.5L453.9 486.1L454.1 490.9L454.4 483.7L454.6 484.4L454.9 502.2L455.1 489.9L455.3 491.0L455.6 493.8L455.8 495.8L456.0 491.8L456.3 489.7L456.5 490.4L456.8 483.9L457.0 486.1L457.2 495.5L457.5 496.5L457.7 487.0L458.0 496.2L458.2 491.1L458.4 489.2L458.7 485.9L458.9 489.0L459.1 483.5L459.4 494.8L459.6 488.1L459.9 496.0L460.1 491.0L460.3 491.4L460.6 497.7L460.8 507.7L461.1 486.5L461.3 490.0L461.5 491.4L461.8 496.4L462.0 494.2L462.2 489.5L462.5 492.2L462.7 485.4L463.0 491.6L463.2 497.2L463.4 488.7L463.7 496.1L463.9 491.1L464.1 503.2L464.4 494.5L464.6 489.1L464.9 496.3L465.1 492.6L465.3 489.0L465.6 492.1L465.8 481.9L466.1 494.1L466.3 493.6L466.5 493.5L466.8 504.4L467.0 501.7L467.2 489.5L467.5 494.6L467.7 484.4L468.0 493.1L468.2 493.7L468.4 486.6L468.7 491.1L468.9 483.2L469.1 499.0L469.4 490.1L469.6 488.7L469.9 489.5L470.1 485.9L470.3 486.7L470.6 492.6L470.8 496.1L471.1 487.0L471.3 492.5L471.5 487.1L471.8 484.7L472.0 491.5L472.2 498.1L472.5 494.2L472.7 488.0L473.0 494.1L473.2 485.7L473.4 492.4L473.7 491.8L473.9 496.3L474.2 493.1L474.4 486.0L474.6 494.5L474.9 494.5L475.1 497.1L475.3 487.8L475.6 501.6L475.8 496.4L476.1 487.1L476.3 484.0L476.5 493.8L476.8 486.8L477.0 504.3L477.2 488.0L477.5 490.8L477.7 499.8L478.0 503.1L478.2 495.5L478.4 490.9L478.7 490.3L478.9 491.8L479.2 487.8L479.4 488.2L479.6 500.6L479.9 494.7L480.1 495.4L480.3 486.3L480.6 495.3L480.8 486.4L481.1 491.8L481.3 478.4L481.5 492.6L481.8 492.3L482.0 493.0L482.3 491.4L482.5 477.8L482.7 495.2L483.0 497.4L483.2 493.4L483.4 488.2L483.7 498.1L483.9 487.5L484.2 487.7L484.4 493.2L484.6 493.7L484.9 496.9L485.1 493.8L485.3 496.9L485.6 484.7L485.8 482.5L486.1 493.8L486.3 492.4L486.5 503.4L486.8 495.2L487.0 490.1L487.3 490.5L487.5 491.3L487.7 487.0L488.0 491.5L488.2 494.4L488.4 482.5L488.7 503.4L488.9 498.9L489.2 496.4L489.4 496.4L489.6 496.6L489.9 493.4L490.1 496.3L490.3 492.4L490.6 488.5L490.8 491.9L491.1 491.2L491.3 497.6L491.5 498.8L491.8 493.8L492.0 486.5L492.3 489.8L492.5 485.6L492.7 486.1L493.0 485.3L493.2 496.8L493.4 484.6L493.7 487.5L493.9 479.7L494.2 488.4L494.4 490.0L494.6 492.7L494.9 490.9L495.1 501.7L495.4 493.4L495.6 492.1L495.8 486.0L496.1 495.7L496.3 491.1L496.5 481.0L496.8 495.0L497.0 486.8L497.3 495.0L497.5 492.4L497.7 489.1L498.0 486.6L498.2 494.7L498.4 497.8L498.7 482.8L498.9 490.6L499.2 487.0L499.4 486.3L499.6 487.2L499.9 493.2L500.1 492.5L500.4 500.9L500.6 490.6L500.8 494.4L501.1 491.8L501.3 480.6L501.5 487.6L501.8 491.3L502.0 499.6L502.3 487.3L502.5 482.6L502.7 496.4L503.0 489.1L503.2 494.6L503.5 492.5L503.7 493.7L503.9 501.0L504.2 494.5L504.4 501.0L504.6 483.4L504.9 485.4L505.1 491.2L505.4 489.9L505.6 491.1L505.8 490.3L506.1 490.3L506.3 492.9L506.5 492.4L506.8 499.3L507.0 497.3L507.3 495.0L507.5 490.2L507.7 493.6L508.0 480.2L508.2 492.5L508.5 493.5L508.7 488.8L508.9 485.3L509.2 480.5L509.4 485.6L509.6 494.8L509.9 492.3L510.1 485.2L510.4 489.8L510.6 486.6L510.8 491.7L511.1 481.9L511.3 482.8L511.5 484.6L511.8 490.3L512.0 500.6L512.3 499.0L512.5 489.3L512.7 487.3" stroke="#000" stroke-width="0.75"/>
<path d="M226.9 497.3L227.1 494.4L227.4 507.7L227.6 500.0L227.9 496.3L228.1 495.1L228.3 497.3L228.6 494.5L228.8 498.3L229.0 497.4L229.3 498.5L229.5 502.4L229.8 501.6L230.0 497.7L230.2 500.6L230.5 494.7L230.7 494.6L230.9 492.9L231.2 498.6L231.4 494.1L231.7 501.2L231.9 500.9L232.1 498.0L232.4 497.3L232.6 503.1L232.9 503.5L233.1 496.8L233.3 500.6L233.6 494.0L233.8 496.5L234.0 496.7L234.3 496.9L234.5 494.7L234.8 497.9L235.0 494.0L235.2 499.0L235.5 498.0L235.7 499.3L236.0 495.2L236.2 496.9L236.4 499.5L236.7 490.2L236.9 497.5L237.1 496.5L237.4 494.6L237.6 490.1L237.9 495.9L238.1 492.9L238.3 494.6L238.6 499.3L238.8 492.0L239.0 491.0L239.3 494.7L239.5 493.8L239.8 498.3L240.0 498.1L240.2 494.3L240.5 490.8L240.7 494.1L241.0 491.4L241.2 489.0L241.4 491.1L241.7 488.6L241.9 484.9L242.1 492.5L242.4 485.2L242.6 492.6L242.9 484.3L243.1 484.1L243.3 485.5L243.6 486.2L243.8 482.1L244.1 482.2L244.3 479.6L244.5 481.9L244.8 476.3L245.0 480.4L245.2 476.5L245.5 474.8L245.7 467.7L246.0 474.5L246.2 469.2L246.4 462.2L246.7 466.1L246.9 466.1L247.1 459.4L247.4 459.3L247.6 453.8L247.9 457.4L248.1 452.0L248.3 448.6L248.6 445.5L248.8 450.4L249.1 441.3L249.3 447.8L249.5 449.0L249.8 446.5L250.0 442.2L250.2 442.9L250.5 439.7L250.7 438.8L251.0 438.6L251.2 439.6L251.4 432.3L251.7 444.3L251.9 442.0L252.1 437.3L252.4 440.0L252.6 445.0L252.9 440.4L253.1 441.1L253.3 447.4L253.6 437.8L253.8 437.3L254.1 438.7L254.3 445.9L254.5 445.5L254.8 451.3L255.0 448.8L255.2 453.3L255.5 451.6L255.7 455.7L256.0 453.0L256.2 454.2L256.4 453.3L256.7 462.8L256.9 464.0L257.2 457.4L257.4 461.0L257.6 458.4L257.9 459.2L258.1 460.0L258.3 458.1L258.6 459.8L258.8 459.5L259.1 463.4L259.3 454.6L259.5 459.2L259.8 455.6L260.0 457.6L260.2 454.1L260.5 458.3L260.7 460.9L261.0 464.0L261.2 469.5L261.4 471.9L261.7 473.3L261.9 476.1L262.2 481.6L262.4 473.9L262.6 487.3L262.9 488.0L263.1 479.0L263.3 488.5L263.6 483.6L263.8 483.7L264.1 486.1L264.3 489.6L264.5 489.7L264.8 484.5L265.0 482.8L265.3 490.7L265.5 483.1L265.7 485.3L266.0 480.1L266.2 482.1L266.4 484.8L266.7 483.3L266.9 480.7L267.2 475.5L267.4 470.4L267.6 476.4L267.9 476.0L268.1 473.0L268.3 474.0L268.6 470.8L268.8 472.9L269.1 476.6L269.3 481.6L269.5 481.1L269.8 481.3L270.0 486.4L270.3 484.4L270.5 488.7L270.7 492.6L271.0 487.2L271.2 496.7L271.4 489.9L271.7 488.2L271.9 495.4L272.2 495.4L272.4 492.5L272.6 491.4L272.9 495.0L273.1 496.1L273.3 494.5L273.6 497.0L273.8 502.1L274.1 499.4L274.3 499.3L274.5 504.8L274.8 499.5L275.0 503.8L275.3 499.9L275.5 507.7L275.7 506.6L276.0 509.1L276.2 501.1L276.4 501.9L276.7 502.0L276.9 502.8L277.2 505.3L277.4 506.1L277.6 515.0L277.9 509.3L278.1 512.7L278.4 512.0L278.6 514.3L278.8 505.6L279.1 508.7L279.3 513.3L279.5 506.4L279.8 507.7L280.0 510.2L280.3 507.3L280.5 508.2L280.7 512.5L281.0 509.5L281.2 502.5L281.4 502.5L281.7 502.1L281.9 506.1L282.2 503.8L282.4 501.3L282.6 498.8L282.9 503.2L283.1 503.4L283.4 495.9L283.6 498.9L283.8 499.8L284.1 500.5L284.3 499.7L284.5 492.2L284.8 493.6L285.0 497.5L285.3 499.7L285.5 490.0L285.7 489.8L286.0 489.4L286.2 488.4L286.4 494.9L286.7 490.8L286.9 482.8L287.2 483.3L287.4 479.5L287.6 479.8L287.9 478.1L288.1 472.1L288.4 473.0L288.6 469.5L288.8 466.6L289.1 464.5L289.3 462.5L289.5 462.7L289.8 472.2L290.0 469.6L290.3 471.7L290.5 468.2L290.7 474.8L291.0 469.9L291.2 471.0L291.5 472.3L291.7 478.1L291.9 476.6L292.2 480.2L292.4 474.8L292.6 472.3L292.9 479.4L293.1 476.4L293.4 473.6L293.6 474.0L293.8 466.9L294.1 471.3L294.3 469.3L294.5 472.9L294.8 463.7L295.0 467.3L295.3 464.7L295.5 465.2L295.7 470.5L296.0 467.1L296.2 464.5L296.5 457.2L296.7 458.7L296.9 454.0L297.2 452.8L297.4 451.3L297.6 447.5L297.9 448.1L298.1 452.2L298.4 447.5L298.6 438.4L298.8 445.4L299.1 436.0L299.3 433.6L299.6 439.5L299.8 435.3L300.0 439.6L300.3 431.5L300.5 435.1L300.7 435.6L301.0 431.5L301.2 430.5L301.5 429.7L301.7 426.0L301.9 425.8L302.2 426.0L302.4 419.6L302.6 413.5L302.9 419.6L303.1 420.7L303.4 420.2L303.6 413.9L303.8 415.2L304.1 413.0L304.3 418.0L304.6 413.9L304.8 412.6L305.0 405.7L305.3 410.8L305.5 420.2L305.7 413.1L306.0 413.4L306.2 415.3L306.5 430.0L306.7 423.6L306.9 423.9L307.2 426.4L307.4 430.0L307.6 435.9L307.9 432.5L308.1 433.1L308.4 431.2L308.6 431.9L308.8 435.6L309.1 433.1L309.3 440.1L309.6 439.8L309.8 439.0L310.0 439.0L310.3 443.8L310.5 440.8L310.7 445.3L311.0 451.5L311.2 449.8L311.5 454.4L311.7 456.2L311.9 459.2L312.2 451.9L312.4 455.0L312.7 464.5L312.9 457.5L313.1 459.5L313.4 465.2L313.6 464.0L313.8 458.5L314.1 463.9L314.3 462.6L314.6 459.5L314.8 465.5L315.0 465.4L315.3 465.0L315.5 459.9L315.7 456.1L316.0 460.7L316.2 461.5L316.5 456.0L316.7 457.4L316.9 454.0L317.2 456.0L317.4 455.8L317.7 455.2L317.9 454.5L318.1 457.3L318.4 457.5L318.6 450.2L318.8 448.4L319.1 454.2L319.3 464.2L319.6 460.2L319.8 457.8L320.0 468.0L320.3 465.7L320.5 462.2L320.8 460.5L321.0 457.0L321.2 447.8L321.5 449.2L321.7 445.2L321.9 435.8L322.2 441.0L322.4 442.2L322.7 432.0L322.9 425.5L323.1 429.1L323.4 426.6L323.6 429.5L323.8 426.3L324.1 419.7L324.3 420.6L324.6 429.0L324.8 439.1L325.0 447.1L325.3 452.9L325.5 459.5L325.8 458.8L326.0 468.1L326.2 472.2L326.5 473.3L326.7 478.3L326.9 483.3L327.2 484.1L327.4 487.7L327.7 496.0L327.9 492.3L328.1 495.5L328.4 497.4L328.6 497.6L328.8 502.3L329.1 498.8L329.3 505.3L329.6 505.2L329.8 503.5L330.0 503.9L330.3 495.5L330.5 493.2L330.8 493.3L331.0 505.9L331.2 506.7L331.5 502.5L331.7 495.1L331.9 513.9L332.2 502.9L332.4 505.6L332.7 500.3L332.9 502.4L333.1 484.1L333.4 487.4L333.6 481.7L333.9 501.2L334.1 498.6L334.3 493.5L334.6 473.3L334.8 472.9L335.0 496.2L335.3 483.2L335.5 467.5L335.8 499.9L336.0 491.1L336.2 475.6L336.5 481.4L336.7 498.8L336.9 472.9L337.2 478.2L337.4 481.0L337.7 500.6L337.9 489.4L338.1 474.1L338.4 482.5L338.6 479.4L338.9 490.2L339.1 472.0L339.3 489.9L339.6 478.0L339.8 484.1L340.0 497.2L340.3 472.1L340.5 500.2L340.8 494.8L341.0 485.8L341.2 501.6L341.5 505.7L341.7 488.4L342.0 491.5L342.2 490.0L342.4 482.0L342.7 464.0L342.9 491.4L343.1 462.0L343.4 484.6L343.6 488.0L343.9 513.5L344.1 502.7L344.3 484.4L344.6 481.3L344.8 495.6L345.0 483.9L345.3 477.8L345.5 492.8L345.8 503.6L346.0 497.0L346.2 490.1L346.5 484.0L346.7 479.0L347.0 496.4L347.2 486.5L347.4 489.5L347.7 486.5L347.9 475.5L348.1 473.5L348.4 491.6L348.6 492.9L348.9 493.8L349.1 492.1L349.3 490.9L349.6 488.3L349.8 491.7L350.0 497.5L350.3 498.5L350.5 485.9L350.8 461.4L351.0 480.7L351.2 479.7L351.5 482.7L351.7 487.9L352.0 465.8L352.2 489.5L352.4 496.2L352.7 498.8L352.9 484.3L353.1 496.3L353.4 495.0L353.6 495.0L353.9 499.5L354.1 484.3L354.3 503.2L354.6 462.7L354.8 512.3L355.1 500.3L355.3 485.4L355.5 481.7L355.8 489.5L356.0 483.0L356.2 484.1L356.5 484.6L356.7 479.9L357.0 483.3L357.2 486.8L357.4 487.2L357.7 476.7L357.9 487.6L358.1 479.9L358.4 469.5L358.6 481.7L358.9 473.3L359.1 490.1L359.3 482.8L359.6 480.4L359.8 483.2L360.1 480.7L360.3 471.2L360.5 488.8L360.8 492.5L361.0 482.3L361.2 500.6L361.5 485.8L361.7 473.5L362.0 485.8L362.2 480.1L362.4 481.8L362.7 473.4L362.9 480.5L363.2 483.6L363.4 512.3L363.6 491.1L363.9 478.5L364.1 487.2L364.3 493.5L364.6 476.6L364.8 494.9L365.1 489.4L365.3 479.0L365.5 491.3L365.8 484.3L366.0 486.2L366.2 498.4L366.5 491.5L366.7 489.9L367.0 492.8L367.2 475.0L367.4 486.5L367.7 492.8L367.9 500.5L368.2 489.6L368.4 472.9L368.6 489.5L368.9 478.7L369.1 481.8L369.3 491.7L369.6 496.1L369.8 480.9L370.1 503.6L370.3 480.5L370.5 498.5L370.8 477.6L371.0 490.3L371.2 487.1L371.5 475.5L371.7 496.4L372.0 485.6L372.2 489.4L372.4 480.9L372.7 478.7L372.9 483.1L373.2 483.9L373.4 490.1L373.6 479.8L373.9 488.4L374.1 484.6L374.3 484.0L374.6 499.8L374.8 497.4L375.1 483.6L375.3 486.0L375.5 473.0L375.8 510.6L376.0 483.6L376.3 474.6L376.5 484.7L376.7 477.7L377.0 485.4L377.2 486.2L377.4 476.4L377.7 498.8L377.9 508.4L378.2 480.7L378.4 484.3L378.6 484.3L378.9 482.6L379.1 479.1L379.3 490.2L379.6 480.6L379.8 482.2L380.1 497.1L380.3 429.9L380.5 482.6L380.8 493.4L381.0 474.7L381.3 488.3L381.5 477.1L381.7 470.4L382.0 500.2L382.2 498.7L382.4 479.2L382.7 487.1L382.9 479.9L383.2 467.5L383.4 490.0L383.6 476.2L383.9 487.6L384.1 491.5L384.4 480.1L384.6 482.3L384.8 473.9L385.1 481.7L385.3 476.0L385.5 479.5L385.8 502.2L386.0 488.5L386.3 488.1L386.5 475.7L386.7 495.4L387.0 482.8L387.2 488.9L387.4 503.2L387.7 486.2L387.9 478.1L388.2 488.3L388.4 475.1L388.6 480.6L388.9 481.4L389.1 489.7L389.4 486.2L389.6 479.8L389.8 484.3L390.1 497.0L390.3 486.2L390.5 480.4L390.8 473.0L391.0 475.9L391.3 494.4L391.5 477.3L391.7 500.8L392.0 491.0L392.2 492.7L392.4 468.8L392.7 477.3L392.9 481.3L393.2 490.6L393.4 471.6L393.6 486.8L393.9 479.4L394.1 473.0L394.4 487.3L394.6 478.7L394.8 504.4L395.1 478.2L395.3 501.4L395.5 479.9L395.8 481.1L396.0 479.2L396.3 460.4L396.5 509.4L396.7 479.3L397.0 488.0L397.2 476.2L397.5 480.7L397.7 482.8L397.9 489.0L398.2 491.1L398.4 480.2L398.6 499.2L398.9 472.8L399.1 489.7L399.4 479.1L399.6 495.8L399.8 479.0L400.1 486.1L400.3 475.8L400.5 471.1L400.8 489.2L401.0 482.5L401.3 481.1L401.5 468.7L401.7 496.8L402.0 477.4L402.2 483.7L402.5 495.8L402.7 486.8L402.9 490.3L403.2 472.1L403.4 493.0L403.6 472.9L403.9 488.0L404.1 476.3L404.4 500.7L404.6 491.0L404.8 481.6L405.1 492.5L405.3 499.1L405.6 482.9L405.8 475.1L406.0 483.0L406.3 485.3L406.5 478.9L406.7 487.4L407.0 473.6L407.2 471.7L407.5 496.0L407.7 472.3L407.9 476.0L408.2 480.0L408.4 475.8L408.6 468.2L408.9 463.2L409.1 466.2L409.4 485.2L409.6 469.0L409.8 499.8L410.1 473.4L410.3 475.4L410.6 472.5L410.8 491.7L411.0 467.8L411.3 469.4L411.5 480.3L411.7 496.9L412.0 479.1L412.2 491.1L412.5 498.4L412.7 489.7L412.9 458.4L413.2 497.5L413.4 485.9L413.6 480.3L413.9 472.3L414.1 491.8L414.4 491.3L414.6 471.8L414.8 477.8L415.1 467.6L415.3 491.7L415.6 480.6L415.8 469.6L416.0 477.5L416.3 489.8L416.5 476.7L416.7 496.9L417.0 485.1L417.2 469.0L417.5 467.4L417.7 471.8L417.9 468.3L418.2 490.2L418.4 481.0L418.7 463.1L418.9 449.8L419.1 468.0L419.4 481.5L419.6 481.3L419.8 458.7L420.1 459.3L420.3 482.2L420.6 467.9L420.8 454.6L421.0 453.8L421.3 472.9L421.5 469.0L421.7 462.5L422.0 478.4L422.2 483.8L422.5 474.2L422.7 454.9L422.9 456.1L423.2 462.4L423.4 479.2L423.7 487.3L423.9 478.0L424.1 467.1L424.4 457.0L424.6 476.6L424.8 466.9L425.1 486.0L425.3 489.3L425.6 467.9L425.8 480.0L426.0 478.5L426.3 491.2L426.5 459.8L426.7 486.5L427.0 468.0L427.2 483.6L427.5 472.3L427.7 454.7L427.9 466.0L428.2 467.2L428.4 459.3L428.7 463.0L428.9 454.2L429.1 483.3L429.4 454.5L429.6 468.3L429.8 480.3L430.1 464.2L430.3 465.5L430.6 471.7L430.8 463.5L431.0 486.3L431.3 490.5L431.5 480.3L431.8 463.7L432.0 470.1L432.2 476.1L432.5 483.2L432.7 477.5L432.9 466.1L433.2 484.4L433.4 484.6L433.7 475.4L433.9 473.7L434.1 478.7L434.4 467.0L434.6 478.7L434.8 489.9L435.1 501.6L435.3 470.5L435.6 483.3L435.8 479.0L436.0 478.1L436.3 470.1L436.5 473.2L436.8 474.0L437.0 480.8L437.2 485.8L437.5 481.3L437.7 491.3L437.9 480.2L438.2 534.1L438.4 476.9L438.7 482.1L438.9 491.6L439.1 491.6L439.4 490.1L439.6 487.2L439.9 479.3L440.1 478.8L440.3 478.0L440.6 473.9L440.8 492.3L441.0 485.2L441.3 478.3L441.5 475.8L441.8 489.4L442.0 489.6L442.2 472.5L442.5 476.7L442.7 478.9L442.9 485.7L443.2 491.8L443.4 483.2L443.7 480.1L443.9 478.3L444.1 474.9L444.4 481.8L444.6 471.2L444.9 485.9L445.1 479.6L445.3 482.1L445.6 499.3L445.8 494.8L446.0 487.6L446.3 481.3L446.5 479.6L446.8 470.8L447.0 482.8L447.2 485.6L447.5 479.6L447.7 493.8L447.9 484.3L448.2 491.9L448.4 482.0L448.7 489.0L448.9 486.4L449.1 464.9L449.4 472.3L449.6 459.4L449.9 480.7L450.1 484.1L450.3 489.7L450.6 482.7L450.8 498.6L451.0 481.5L451.3 487.5L451.5 494.7L451.8 499.0L452.0 490.7L452.2 486.1L452.5 482.6L452.7 497.3L453.0 482.7L453.2 479.3L453.4 461.2L453.7 477.7L453.9 472.0L454.1 486.5L454.4 479.4L454.6 485.5L454.9 485.9L455.1 473.1L455.3 479.2L455.6 463.1L455.8 476.2L456.0 471.5L456.3 486.1L456.5 483.5L456.8 467.6L457.0 479.5L457.2 458.1L457.5 481.7L457.7 482.2L458.0 449.5L458.2 490.8L458.4 476.8L458.7 464.7L458.9 463.4L459.1 483.0L459.4 444.9L459.6 474.5L459.9 491.0L460.1 458.2L460.3 473.8L460.6 467.2L460.8 458.8L461.1 477.6L461.3 475.4L461.5 468.3L461.8 457.4L462.0 482.2L462.2 450.5L462.5 462.8L462.7 480.0L463.0 466.5L463.2 460.5L463.4 452.9L463.7 457.0L463.9 454.0L464.1 468.6L464.4 458.5L464.6 496.8L464.9 455.3L465.1 467.3L465.3 448.5L465.6 473.6L465.8 472.3L466.1 466.3L466.3 457.4L466.5 462.9L466.8 454.8L467.0 466.1L467.2 454.6L467.5 436.7L467.7 452.3L468.0 459.4L468.2 483.3L468.4 459.2L468.7 454.0L468.9 468.4L469.1 454.4L469.4 491.5L469.6 474.2L469.9 477.0L470.1 460.2L470.3 475.6L470.6 477.3L470.8 449.3L471.1 482.9L471.3 460.4L471.5 453.6L471.8 469.3L472.0 476.7L472.2 468.4L472.5 472.9L472.7 475.3L473.0 463.6L473.2 466.6L473.4 436.3L473.7 451.2L473.9 463.9L474.2 459.5L474.4 446.6L474.6 452.4L474.9 465.3L475.1 474.9L475.3 445.4L475.6 465.9L475.8 463.0L476.1 450.1L476.3 463.6L476.5 450.8L476.8 469.1L477.0 463.5L477.2 467.9L477.5 441.5L477.7 482.4L478.0 467.9L478.2 475.9L478.4 474.2L478.7 480.6L478.9 475.2L479.2 451.8L479.4 449.1L479.6 473.4L479.9 480.0L480.1 471.4L480.3 447.0L480.6 466.7L480.8 490.5L481.1 456.1L481.3 467.3L481.5 458.8L481.8 461.2L482.0 480.9L482.3 454.1L482.5 458.2L482.7 473.6L483.0 492.1L483.2 479.3L483.4 479.0L483.7 457.9L483.9 472.6L484.2 471.0L484.4 465.4L484.6 470.9L484.9 461.3L485.1 462.2L485.3 454.9L485.6 480.0L485.8 461.7L486.1 468.8L486.3 441.3L486.5 448.7L486.8 470.3L487.0 454.6L487.3 485.8L487.5 477.7L487.7 468.6L488.0 462.4L488.2 478.2L488.4 465.1L488.7 451.0L488.9 484.0L489.2 481.2L489.4 487.9L489.6 452.8L489.9 478.6L490.1 470.8L490.3 476.8L490.6 467.8L490.8 470.8L491.1 465.0L491.3 465.3L491.5 449.0L491.8 478.5L492.0 465.8L492.3 468.9L492.5 478.7L492.7 458.7L493.0 447.5L493.2 481.5L493.4 440.8L493.7 470.9L493.9 470.3L494.2 498.9L494.4 469.0L494.6 471.3L494.9 473.0L495.1 462.5L495.4 472.4L495.6 466.3L495.8 478.3L496.1 484.0L496.3 469.8L496.5 464.5L496.8 463.4L497.0 470.4L497.3 480.3L497.5 471.5L497.7 475.2L498.0 486.9L498.2 468.9L498.4 475.0L498.7 485.8L498.9 476.8L499.2 466.7L499.4 456.4L499.6 495.0L499.9 478.4L500.1 468.1L500.4 461.3L500.6 470.4L500.8 486.9L501.1 480.4L501.3 474.6L501.5 482.9L501.8 485.6L502.0 487.7L502.3 442.9L502.5 471.7L502.7 474.3L503.0 463.1L503.2 470.0L503.5 471.8L503.7 467.0L503.9 478.0L504.2 473.3L504.4 457.7L504.6 460.6L504.9 480.0L505.1 450.2L505.4 472.2L505.6 486.1L505.8 459.6L506.1 460.4L506.3 464.3L506.5 479.3L506.8 454.3L507.0 462.2L507.3 464.2L507.5 465.7L507.7 464.2L508.0 442.9L508.2 474.4L508.5 465.3L508.7 455.7L508.9 459.8L509.2 477.8L509.4 470.3L509.6 473.4L509.9 485.9L510.1 471.5L510.4 458.3L510.6 466.2L510.8 456.8L511.1 464.6L511.3 478.0L511.5 463.7L511.8 490.0L512.0 455.7L512.3 474.7L512.5 451.4L512.7 486.4" stroke="#f00" stroke-width="0.75"/>
</g>
</svg>
<rect x="0.5" y="0.5" width="684" height="588" fill="none" stroke="#a0a0a0" stroke-width="1"/>
<rect x="2" y="2" width="681" height="585" fill="none" stroke="#000" stroke-width="2"/>
</g>
</svg>
</body></html>
